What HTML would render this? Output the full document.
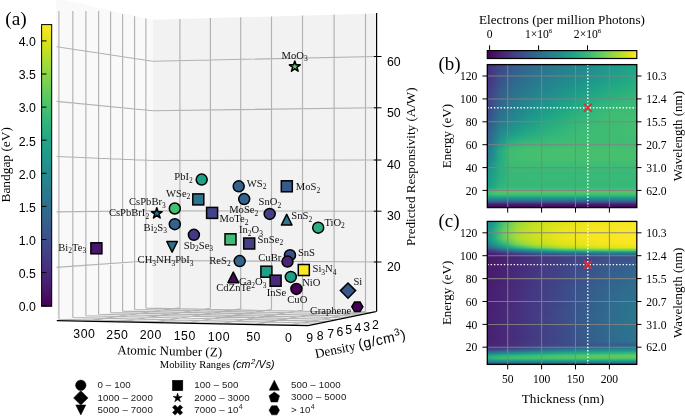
<!DOCTYPE html>
<html><head><meta charset="utf-8"><style>
html,body{margin:0;padding:0;background:#fff;}
body{width:685px;height:417px;overflow:hidden;}
svg{display:block;}
</style></head><body>
<svg style="will-change:transform" width="685" height="417" viewBox="0 0 685 417">
<defs><linearGradient id="vv" x1="0" y1="1" x2="0" y2="0"><stop offset="0.0000" stop-color="#440154"/><stop offset="0.0625" stop-color="#48186a"/><stop offset="0.1250" stop-color="#472d7b"/><stop offset="0.1875" stop-color="#424086"/><stop offset="0.2500" stop-color="#3b528b"/><stop offset="0.3125" stop-color="#33638d"/><stop offset="0.3750" stop-color="#2c728e"/><stop offset="0.4375" stop-color="#26828e"/><stop offset="0.5000" stop-color="#21918c"/><stop offset="0.5625" stop-color="#1fa088"/><stop offset="0.6250" stop-color="#28ae80"/><stop offset="0.6875" stop-color="#3fbc73"/><stop offset="0.7500" stop-color="#5ec962"/><stop offset="0.8125" stop-color="#84d44b"/><stop offset="0.8750" stop-color="#addc30"/><stop offset="0.9375" stop-color="#d8e219"/><stop offset="1.0000" stop-color="#fde725"/></linearGradient><linearGradient id="b0"><stop offset="0.000" stop-color="#472c7a"/><stop offset="0.015" stop-color="#472f7d"/><stop offset="0.030" stop-color="#463480"/><stop offset="0.050" stop-color="#443b84"/><stop offset="0.080" stop-color="#414487"/><stop offset="0.110" stop-color="#3e4c8a"/><stop offset="0.150" stop-color="#39558c"/><stop offset="0.200" stop-color="#365d8d"/><stop offset="0.250" stop-color="#32658e"/><stop offset="0.320" stop-color="#2f6c8e"/><stop offset="0.400" stop-color="#2c738e"/><stop offset="0.500" stop-color="#297b8e"/><stop offset="0.600" stop-color="#26828e"/><stop offset="0.700" stop-color="#228c8d"/><stop offset="0.800" stop-color="#1f958b"/><stop offset="0.900" stop-color="#1e9d89"/><stop offset="1.000" stop-color="#20a486"/></linearGradient><linearGradient id="b1"><stop offset="0.000" stop-color="#472d7b"/><stop offset="0.015" stop-color="#46327e"/><stop offset="0.030" stop-color="#453781"/><stop offset="0.050" stop-color="#433d84"/><stop offset="0.080" stop-color="#3f4788"/><stop offset="0.110" stop-color="#3d4e8a"/><stop offset="0.150" stop-color="#38588c"/><stop offset="0.200" stop-color="#34608d"/><stop offset="0.250" stop-color="#31678e"/><stop offset="0.320" stop-color="#2e6e8e"/><stop offset="0.400" stop-color="#2a768e"/><stop offset="0.500" stop-color="#277e8e"/><stop offset="0.600" stop-color="#25858e"/><stop offset="0.700" stop-color="#218f8d"/><stop offset="0.800" stop-color="#1f988b"/><stop offset="0.900" stop-color="#1f9f88"/><stop offset="1.000" stop-color="#21a585"/></linearGradient><linearGradient id="b2"><stop offset="0.000" stop-color="#472e7c"/><stop offset="0.015" stop-color="#46337f"/><stop offset="0.030" stop-color="#453882"/><stop offset="0.050" stop-color="#423f85"/><stop offset="0.080" stop-color="#3e4989"/><stop offset="0.110" stop-color="#3c508b"/><stop offset="0.150" stop-color="#375a8c"/><stop offset="0.200" stop-color="#33628d"/><stop offset="0.250" stop-color="#306a8e"/><stop offset="0.320" stop-color="#2d718e"/><stop offset="0.400" stop-color="#2a788e"/><stop offset="0.500" stop-color="#27808e"/><stop offset="0.600" stop-color="#24878e"/><stop offset="0.700" stop-color="#21918c"/><stop offset="0.800" stop-color="#1f9a8a"/><stop offset="0.900" stop-color="#1fa188"/><stop offset="1.000" stop-color="#22a785"/></linearGradient><linearGradient id="b3"><stop offset="0.000" stop-color="#46307e"/><stop offset="0.015" stop-color="#463480"/><stop offset="0.030" stop-color="#443983"/><stop offset="0.050" stop-color="#424186"/><stop offset="0.080" stop-color="#3e4c8a"/><stop offset="0.110" stop-color="#3a538b"/><stop offset="0.150" stop-color="#365c8d"/><stop offset="0.200" stop-color="#32648e"/><stop offset="0.250" stop-color="#2f6c8e"/><stop offset="0.320" stop-color="#2c728e"/><stop offset="0.400" stop-color="#297a8e"/><stop offset="0.500" stop-color="#26828e"/><stop offset="0.600" stop-color="#238a8d"/><stop offset="0.700" stop-color="#20938c"/><stop offset="0.800" stop-color="#1e9c89"/><stop offset="0.900" stop-color="#1fa287"/><stop offset="1.000" stop-color="#23a983"/></linearGradient><linearGradient id="b4"><stop offset="0.000" stop-color="#46327e"/><stop offset="0.015" stop-color="#453781"/><stop offset="0.030" stop-color="#443b84"/><stop offset="0.050" stop-color="#414287"/><stop offset="0.080" stop-color="#3d4e8a"/><stop offset="0.110" stop-color="#39558c"/><stop offset="0.150" stop-color="#355f8d"/><stop offset="0.200" stop-color="#31668e"/><stop offset="0.250" stop-color="#2e6e8e"/><stop offset="0.320" stop-color="#2b748e"/><stop offset="0.400" stop-color="#287c8e"/><stop offset="0.500" stop-color="#25848e"/><stop offset="0.600" stop-color="#228d8d"/><stop offset="0.700" stop-color="#1f958b"/><stop offset="0.800" stop-color="#1f9e89"/><stop offset="0.900" stop-color="#20a486"/><stop offset="1.000" stop-color="#25ab82"/></linearGradient><linearGradient id="b5"><stop offset="0.000" stop-color="#46337f"/><stop offset="0.015" stop-color="#453882"/><stop offset="0.030" stop-color="#433d84"/><stop offset="0.050" stop-color="#404588"/><stop offset="0.080" stop-color="#3b518b"/><stop offset="0.110" stop-color="#38588c"/><stop offset="0.150" stop-color="#34618d"/><stop offset="0.200" stop-color="#30698e"/><stop offset="0.250" stop-color="#2d708e"/><stop offset="0.320" stop-color="#2a768e"/><stop offset="0.400" stop-color="#277f8e"/><stop offset="0.500" stop-color="#24878e"/><stop offset="0.600" stop-color="#218f8d"/><stop offset="0.700" stop-color="#1f978b"/><stop offset="0.800" stop-color="#1fa088"/><stop offset="0.900" stop-color="#21a685"/><stop offset="1.000" stop-color="#25ac82"/></linearGradient><linearGradient id="b6"><stop offset="0.000" stop-color="#463480"/><stop offset="0.015" stop-color="#443983"/><stop offset="0.030" stop-color="#433e85"/><stop offset="0.050" stop-color="#3f4788"/><stop offset="0.080" stop-color="#3b528b"/><stop offset="0.110" stop-color="#375a8c"/><stop offset="0.150" stop-color="#33638d"/><stop offset="0.200" stop-color="#2f6b8e"/><stop offset="0.250" stop-color="#2c718e"/><stop offset="0.320" stop-color="#29798e"/><stop offset="0.400" stop-color="#26818e"/><stop offset="0.500" stop-color="#23898e"/><stop offset="0.600" stop-color="#20928c"/><stop offset="0.700" stop-color="#1f9a8a"/><stop offset="0.800" stop-color="#1fa287"/><stop offset="0.900" stop-color="#22a884"/><stop offset="1.000" stop-color="#27ad81"/></linearGradient><linearGradient id="b7"><stop offset="0.000" stop-color="#453581"/><stop offset="0.015" stop-color="#443a83"/><stop offset="0.030" stop-color="#424086"/><stop offset="0.050" stop-color="#3f4889"/><stop offset="0.080" stop-color="#3a548c"/><stop offset="0.110" stop-color="#365c8d"/><stop offset="0.150" stop-color="#32658e"/><stop offset="0.200" stop-color="#2f6c8e"/><stop offset="0.250" stop-color="#2c738e"/><stop offset="0.320" stop-color="#297b8e"/><stop offset="0.400" stop-color="#26828e"/><stop offset="0.500" stop-color="#228b8d"/><stop offset="0.600" stop-color="#20938c"/><stop offset="0.700" stop-color="#1e9c89"/><stop offset="0.800" stop-color="#20a486"/><stop offset="0.900" stop-color="#24aa83"/><stop offset="1.000" stop-color="#29af7f"/></linearGradient><linearGradient id="b8"><stop offset="0.000" stop-color="#453781"/><stop offset="0.015" stop-color="#443b84"/><stop offset="0.030" stop-color="#424186"/><stop offset="0.050" stop-color="#3e4989"/><stop offset="0.080" stop-color="#39558c"/><stop offset="0.110" stop-color="#365d8d"/><stop offset="0.150" stop-color="#31678e"/><stop offset="0.200" stop-color="#2e6e8e"/><stop offset="0.250" stop-color="#2b758e"/><stop offset="0.320" stop-color="#287c8e"/><stop offset="0.400" stop-color="#25848e"/><stop offset="0.500" stop-color="#228d8d"/><stop offset="0.600" stop-color="#1f968b"/><stop offset="0.700" stop-color="#1f9e89"/><stop offset="0.800" stop-color="#21a685"/><stop offset="0.900" stop-color="#25ac82"/><stop offset="1.000" stop-color="#2ab07f"/></linearGradient><linearGradient id="b9"><stop offset="0.000" stop-color="#453882"/><stop offset="0.015" stop-color="#433e85"/><stop offset="0.030" stop-color="#414287"/><stop offset="0.050" stop-color="#3e4c8a"/><stop offset="0.080" stop-color="#38588c"/><stop offset="0.110" stop-color="#355f8d"/><stop offset="0.150" stop-color="#31688e"/><stop offset="0.200" stop-color="#2d708e"/><stop offset="0.250" stop-color="#2a778e"/><stop offset="0.320" stop-color="#277e8e"/><stop offset="0.400" stop-color="#24868e"/><stop offset="0.500" stop-color="#21908d"/><stop offset="0.600" stop-color="#1f988b"/><stop offset="0.700" stop-color="#1fa188"/><stop offset="0.800" stop-color="#22a884"/><stop offset="0.900" stop-color="#26ad81"/><stop offset="1.000" stop-color="#2db27d"/></linearGradient><linearGradient id="b10"><stop offset="0.000" stop-color="#443983"/><stop offset="0.015" stop-color="#423f85"/><stop offset="0.030" stop-color="#414487"/><stop offset="0.050" stop-color="#3d4d8a"/><stop offset="0.080" stop-color="#38598c"/><stop offset="0.110" stop-color="#34618d"/><stop offset="0.150" stop-color="#306a8e"/><stop offset="0.200" stop-color="#2c718e"/><stop offset="0.250" stop-color="#2a788e"/><stop offset="0.320" stop-color="#27808e"/><stop offset="0.400" stop-color="#23888e"/><stop offset="0.500" stop-color="#20928c"/><stop offset="0.600" stop-color="#1e9b8a"/><stop offset="0.700" stop-color="#1fa287"/><stop offset="0.800" stop-color="#24aa83"/><stop offset="0.900" stop-color="#28ae80"/><stop offset="1.000" stop-color="#2eb37c"/></linearGradient><linearGradient id="b11"><stop offset="0.000" stop-color="#443a83"/><stop offset="0.015" stop-color="#424086"/><stop offset="0.030" stop-color="#404588"/><stop offset="0.050" stop-color="#3d4e8a"/><stop offset="0.080" stop-color="#375b8d"/><stop offset="0.110" stop-color="#33628d"/><stop offset="0.150" stop-color="#2f6c8e"/><stop offset="0.200" stop-color="#2c738e"/><stop offset="0.250" stop-color="#297a8e"/><stop offset="0.320" stop-color="#26828e"/><stop offset="0.400" stop-color="#238a8d"/><stop offset="0.500" stop-color="#20938c"/><stop offset="0.600" stop-color="#1e9d89"/><stop offset="0.700" stop-color="#20a486"/><stop offset="0.800" stop-color="#25ac82"/><stop offset="0.900" stop-color="#2ab07f"/><stop offset="1.000" stop-color="#31b57b"/></linearGradient><linearGradient id="b12"><stop offset="0.000" stop-color="#443b84"/><stop offset="0.015" stop-color="#424186"/><stop offset="0.030" stop-color="#3f4788"/><stop offset="0.050" stop-color="#3c508b"/><stop offset="0.080" stop-color="#365d8d"/><stop offset="0.110" stop-color="#32648e"/><stop offset="0.150" stop-color="#2e6e8e"/><stop offset="0.200" stop-color="#2b758e"/><stop offset="0.250" stop-color="#287d8e"/><stop offset="0.320" stop-color="#25848e"/><stop offset="0.400" stop-color="#228d8d"/><stop offset="0.500" stop-color="#1f968b"/><stop offset="0.600" stop-color="#1fa088"/><stop offset="0.700" stop-color="#22a785"/><stop offset="0.800" stop-color="#28ae80"/><stop offset="0.900" stop-color="#2db27d"/><stop offset="1.000" stop-color="#32b67a"/></linearGradient><linearGradient id="b13"><stop offset="0.000" stop-color="#433d84"/><stop offset="0.015" stop-color="#414287"/><stop offset="0.030" stop-color="#3f4889"/><stop offset="0.050" stop-color="#3b518b"/><stop offset="0.080" stop-color="#355f8d"/><stop offset="0.110" stop-color="#31668e"/><stop offset="0.150" stop-color="#2d708e"/><stop offset="0.200" stop-color="#2a778e"/><stop offset="0.250" stop-color="#277f8e"/><stop offset="0.320" stop-color="#24868e"/><stop offset="0.400" stop-color="#21908d"/><stop offset="0.500" stop-color="#1f998a"/><stop offset="0.600" stop-color="#1fa287"/><stop offset="0.700" stop-color="#24aa83"/><stop offset="0.800" stop-color="#2ab07f"/><stop offset="0.900" stop-color="#2fb47c"/><stop offset="1.000" stop-color="#35b779"/></linearGradient><linearGradient id="b14"><stop offset="0.000" stop-color="#433e85"/><stop offset="0.015" stop-color="#414487"/><stop offset="0.030" stop-color="#3e4a89"/><stop offset="0.050" stop-color="#3a538b"/><stop offset="0.080" stop-color="#34608d"/><stop offset="0.110" stop-color="#31688e"/><stop offset="0.150" stop-color="#2c718e"/><stop offset="0.200" stop-color="#29798e"/><stop offset="0.250" stop-color="#26818e"/><stop offset="0.320" stop-color="#23888e"/><stop offset="0.400" stop-color="#20928c"/><stop offset="0.500" stop-color="#1e9b8a"/><stop offset="0.600" stop-color="#20a486"/><stop offset="0.700" stop-color="#25ac82"/><stop offset="0.800" stop-color="#2db27d"/><stop offset="0.900" stop-color="#32b67a"/><stop offset="1.000" stop-color="#38b977"/></linearGradient><linearGradient id="b15"><stop offset="0.000" stop-color="#423f85"/><stop offset="0.015" stop-color="#404688"/><stop offset="0.030" stop-color="#3e4c8a"/><stop offset="0.050" stop-color="#3a548c"/><stop offset="0.080" stop-color="#33628d"/><stop offset="0.110" stop-color="#306a8e"/><stop offset="0.150" stop-color="#2c738e"/><stop offset="0.200" stop-color="#297b8e"/><stop offset="0.250" stop-color="#26828e"/><stop offset="0.320" stop-color="#238a8d"/><stop offset="0.400" stop-color="#20938c"/><stop offset="0.500" stop-color="#1e9d89"/><stop offset="0.600" stop-color="#21a685"/><stop offset="0.700" stop-color="#26ad81"/><stop offset="0.800" stop-color="#2fb47c"/><stop offset="0.900" stop-color="#34b679"/><stop offset="1.000" stop-color="#38b977"/></linearGradient><linearGradient id="b16"><stop offset="0.000" stop-color="#424186"/><stop offset="0.015" stop-color="#3f4788"/><stop offset="0.030" stop-color="#3d4e8a"/><stop offset="0.050" stop-color="#38588c"/><stop offset="0.080" stop-color="#32648e"/><stop offset="0.110" stop-color="#2f6c8e"/><stop offset="0.150" stop-color="#2b758e"/><stop offset="0.200" stop-color="#287d8e"/><stop offset="0.250" stop-color="#25848e"/><stop offset="0.320" stop-color="#228d8d"/><stop offset="0.400" stop-color="#1f968b"/><stop offset="0.500" stop-color="#1fa088"/><stop offset="0.600" stop-color="#23a983"/><stop offset="0.700" stop-color="#29af7f"/><stop offset="0.800" stop-color="#32b67a"/><stop offset="0.900" stop-color="#37b878"/><stop offset="1.000" stop-color="#3bbb75"/></linearGradient><linearGradient id="b17"><stop offset="0.000" stop-color="#414287"/><stop offset="0.015" stop-color="#3e4989"/><stop offset="0.030" stop-color="#3c508b"/><stop offset="0.050" stop-color="#375a8c"/><stop offset="0.080" stop-color="#31678e"/><stop offset="0.110" stop-color="#2e6e8e"/><stop offset="0.150" stop-color="#2a778e"/><stop offset="0.200" stop-color="#27808e"/><stop offset="0.250" stop-color="#24878e"/><stop offset="0.320" stop-color="#21908d"/><stop offset="0.400" stop-color="#1f998a"/><stop offset="0.500" stop-color="#1fa287"/><stop offset="0.600" stop-color="#25ab82"/><stop offset="0.700" stop-color="#2cb17e"/><stop offset="0.800" stop-color="#34b679"/><stop offset="0.900" stop-color="#38b977"/><stop offset="1.000" stop-color="#3dbc74"/></linearGradient><linearGradient id="b18"><stop offset="0.000" stop-color="#404588"/><stop offset="0.015" stop-color="#3e4a89"/><stop offset="0.030" stop-color="#3b518b"/><stop offset="0.050" stop-color="#375b8d"/><stop offset="0.080" stop-color="#31688e"/><stop offset="0.110" stop-color="#2d708e"/><stop offset="0.150" stop-color="#29798e"/><stop offset="0.200" stop-color="#26828e"/><stop offset="0.250" stop-color="#23898e"/><stop offset="0.320" stop-color="#20928c"/><stop offset="0.400" stop-color="#1e9c89"/><stop offset="0.500" stop-color="#20a486"/><stop offset="0.600" stop-color="#27ad81"/><stop offset="0.700" stop-color="#2eb37c"/><stop offset="0.800" stop-color="#37b878"/><stop offset="0.900" stop-color="#3aba76"/><stop offset="1.000" stop-color="#3fbc73"/></linearGradient><linearGradient id="b19"><stop offset="0.000" stop-color="#404688"/><stop offset="0.015" stop-color="#3d4d8a"/><stop offset="0.030" stop-color="#3a538b"/><stop offset="0.050" stop-color="#365d8d"/><stop offset="0.080" stop-color="#306a8e"/><stop offset="0.110" stop-color="#2c718e"/><stop offset="0.150" stop-color="#297b8e"/><stop offset="0.200" stop-color="#25838e"/><stop offset="0.250" stop-color="#228b8d"/><stop offset="0.320" stop-color="#20938c"/><stop offset="0.400" stop-color="#1f9e89"/><stop offset="0.500" stop-color="#21a685"/><stop offset="0.600" stop-color="#29af7f"/><stop offset="0.700" stop-color="#2fb47c"/><stop offset="0.800" stop-color="#38b977"/><stop offset="0.900" stop-color="#3bbb75"/><stop offset="1.000" stop-color="#3fbc73"/></linearGradient><linearGradient id="b20"><stop offset="0.000" stop-color="#3f4788"/><stop offset="0.015" stop-color="#3d4e8a"/><stop offset="0.030" stop-color="#3a548c"/><stop offset="0.050" stop-color="#355e8d"/><stop offset="0.080" stop-color="#2f6c8e"/><stop offset="0.110" stop-color="#2c738e"/><stop offset="0.150" stop-color="#287d8e"/><stop offset="0.200" stop-color="#25858e"/><stop offset="0.250" stop-color="#228d8d"/><stop offset="0.320" stop-color="#1f968b"/><stop offset="0.400" stop-color="#1fa088"/><stop offset="0.500" stop-color="#22a884"/><stop offset="0.600" stop-color="#2cb17e"/><stop offset="0.700" stop-color="#32b67a"/><stop offset="0.800" stop-color="#3bbb75"/><stop offset="0.900" stop-color="#3fbc73"/><stop offset="1.000" stop-color="#40bd72"/></linearGradient><linearGradient id="b21"><stop offset="0.000" stop-color="#3f4889"/><stop offset="0.015" stop-color="#3c4f8a"/><stop offset="0.030" stop-color="#39568c"/><stop offset="0.050" stop-color="#34608d"/><stop offset="0.080" stop-color="#2e6e8e"/><stop offset="0.110" stop-color="#2b748e"/><stop offset="0.150" stop-color="#277f8e"/><stop offset="0.200" stop-color="#24868e"/><stop offset="0.250" stop-color="#218f8d"/><stop offset="0.320" stop-color="#1f988b"/><stop offset="0.400" stop-color="#1fa287"/><stop offset="0.500" stop-color="#25ab82"/><stop offset="0.600" stop-color="#2eb37c"/><stop offset="0.700" stop-color="#35b779"/><stop offset="0.800" stop-color="#3dbc74"/><stop offset="0.900" stop-color="#40bd72"/><stop offset="1.000" stop-color="#42be71"/></linearGradient><linearGradient id="b22"><stop offset="0.000" stop-color="#3e4a89"/><stop offset="0.015" stop-color="#3b518b"/><stop offset="0.030" stop-color="#38598c"/><stop offset="0.050" stop-color="#33628d"/><stop offset="0.080" stop-color="#2d708e"/><stop offset="0.110" stop-color="#2a778e"/><stop offset="0.150" stop-color="#26818e"/><stop offset="0.200" stop-color="#23898e"/><stop offset="0.250" stop-color="#20928c"/><stop offset="0.320" stop-color="#1f9a8a"/><stop offset="0.400" stop-color="#20a486"/><stop offset="0.500" stop-color="#26ad81"/><stop offset="0.600" stop-color="#2fb47c"/><stop offset="0.700" stop-color="#37b878"/><stop offset="0.800" stop-color="#3fbc73"/><stop offset="0.900" stop-color="#40bd72"/><stop offset="1.000" stop-color="#44bf70"/></linearGradient><linearGradient id="b23"><stop offset="0.000" stop-color="#3d4d8a"/><stop offset="0.015" stop-color="#3a538b"/><stop offset="0.030" stop-color="#375b8d"/><stop offset="0.050" stop-color="#32648e"/><stop offset="0.080" stop-color="#2c728e"/><stop offset="0.110" stop-color="#297a8e"/><stop offset="0.150" stop-color="#25838e"/><stop offset="0.200" stop-color="#228c8d"/><stop offset="0.250" stop-color="#1f948c"/><stop offset="0.320" stop-color="#1e9d89"/><stop offset="0.400" stop-color="#21a685"/><stop offset="0.500" stop-color="#27ad81"/><stop offset="0.600" stop-color="#31b57b"/><stop offset="0.700" stop-color="#38b977"/><stop offset="0.800" stop-color="#3fbc73"/><stop offset="0.900" stop-color="#40bd72"/><stop offset="1.000" stop-color="#44bf70"/></linearGradient><linearGradient id="b24"><stop offset="0.000" stop-color="#3c4f8a"/><stop offset="0.015" stop-color="#39558c"/><stop offset="0.030" stop-color="#365d8d"/><stop offset="0.050" stop-color="#31678e"/><stop offset="0.080" stop-color="#2b748e"/><stop offset="0.110" stop-color="#287c8e"/><stop offset="0.150" stop-color="#24868e"/><stop offset="0.200" stop-color="#218f8d"/><stop offset="0.250" stop-color="#1f968b"/><stop offset="0.320" stop-color="#1f9f88"/><stop offset="0.400" stop-color="#22a884"/><stop offset="0.500" stop-color="#29af7f"/><stop offset="0.600" stop-color="#32b67a"/><stop offset="0.700" stop-color="#38b977"/><stop offset="0.800" stop-color="#3fbc73"/><stop offset="0.900" stop-color="#40bd72"/><stop offset="1.000" stop-color="#44bf70"/></linearGradient><linearGradient id="b25"><stop offset="0.000" stop-color="#3b518b"/><stop offset="0.015" stop-color="#38588c"/><stop offset="0.030" stop-color="#355f8d"/><stop offset="0.050" stop-color="#30698e"/><stop offset="0.080" stop-color="#2a778e"/><stop offset="0.110" stop-color="#277f8e"/><stop offset="0.150" stop-color="#23898e"/><stop offset="0.200" stop-color="#20928c"/><stop offset="0.250" stop-color="#1f998a"/><stop offset="0.320" stop-color="#1fa188"/><stop offset="0.400" stop-color="#24aa83"/><stop offset="0.500" stop-color="#2ab07f"/><stop offset="0.600" stop-color="#34b679"/><stop offset="0.700" stop-color="#3aba76"/><stop offset="0.800" stop-color="#3fbc73"/><stop offset="0.900" stop-color="#40bd72"/><stop offset="1.000" stop-color="#44bf70"/></linearGradient><linearGradient id="b26"><stop offset="0.000" stop-color="#3a538b"/><stop offset="0.015" stop-color="#375a8c"/><stop offset="0.030" stop-color="#34618d"/><stop offset="0.050" stop-color="#2f6b8e"/><stop offset="0.080" stop-color="#297a8e"/><stop offset="0.110" stop-color="#26828e"/><stop offset="0.150" stop-color="#228c8d"/><stop offset="0.200" stop-color="#1f948c"/><stop offset="0.250" stop-color="#1e9c89"/><stop offset="0.320" stop-color="#20a386"/><stop offset="0.400" stop-color="#25ac82"/><stop offset="0.500" stop-color="#2db27d"/><stop offset="0.600" stop-color="#37b878"/><stop offset="0.700" stop-color="#3aba76"/><stop offset="0.800" stop-color="#3fbc73"/><stop offset="0.900" stop-color="#40bd72"/><stop offset="1.000" stop-color="#44bf70"/></linearGradient><linearGradient id="b27"><stop offset="0.000" stop-color="#39558c"/><stop offset="0.015" stop-color="#365c8d"/><stop offset="0.030" stop-color="#33638d"/><stop offset="0.050" stop-color="#2e6e8e"/><stop offset="0.080" stop-color="#287d8e"/><stop offset="0.110" stop-color="#25848e"/><stop offset="0.150" stop-color="#218f8d"/><stop offset="0.200" stop-color="#1f978b"/><stop offset="0.250" stop-color="#1f9f88"/><stop offset="0.320" stop-color="#21a585"/><stop offset="0.400" stop-color="#27ad81"/><stop offset="0.500" stop-color="#2eb37c"/><stop offset="0.600" stop-color="#38b977"/><stop offset="0.700" stop-color="#3bbb75"/><stop offset="0.800" stop-color="#3fbc73"/><stop offset="0.900" stop-color="#40bd72"/><stop offset="1.000" stop-color="#44bf70"/></linearGradient><linearGradient id="b28"><stop offset="0.000" stop-color="#38588c"/><stop offset="0.015" stop-color="#355f8d"/><stop offset="0.030" stop-color="#32658e"/><stop offset="0.050" stop-color="#2d708e"/><stop offset="0.080" stop-color="#277f8e"/><stop offset="0.110" stop-color="#24878e"/><stop offset="0.150" stop-color="#20928c"/><stop offset="0.200" stop-color="#1f998a"/><stop offset="0.250" stop-color="#1fa188"/><stop offset="0.320" stop-color="#22a884"/><stop offset="0.400" stop-color="#29af7f"/><stop offset="0.500" stop-color="#31b57b"/><stop offset="0.600" stop-color="#3aba76"/><stop offset="0.700" stop-color="#3bbb75"/><stop offset="0.800" stop-color="#3fbc73"/><stop offset="0.900" stop-color="#40bd72"/><stop offset="1.000" stop-color="#44bf70"/></linearGradient><linearGradient id="b29"><stop offset="0.000" stop-color="#375a8c"/><stop offset="0.015" stop-color="#34618d"/><stop offset="0.030" stop-color="#31678e"/><stop offset="0.050" stop-color="#2c718e"/><stop offset="0.080" stop-color="#26828e"/><stop offset="0.110" stop-color="#238a8d"/><stop offset="0.150" stop-color="#1f958b"/><stop offset="0.200" stop-color="#1e9c89"/><stop offset="0.250" stop-color="#20a386"/><stop offset="0.320" stop-color="#24aa83"/><stop offset="0.400" stop-color="#2cb17e"/><stop offset="0.500" stop-color="#32b67a"/><stop offset="0.600" stop-color="#3bbb75"/><stop offset="0.700" stop-color="#3dbc74"/><stop offset="0.800" stop-color="#3fbc73"/><stop offset="0.900" stop-color="#40bd72"/><stop offset="1.000" stop-color="#44bf70"/></linearGradient><linearGradient id="b30"><stop offset="0.000" stop-color="#365c8d"/><stop offset="0.015" stop-color="#33628d"/><stop offset="0.030" stop-color="#30698e"/><stop offset="0.050" stop-color="#2c738e"/><stop offset="0.080" stop-color="#25848e"/><stop offset="0.110" stop-color="#228d8d"/><stop offset="0.150" stop-color="#1f988b"/><stop offset="0.200" stop-color="#1fa088"/><stop offset="0.250" stop-color="#21a685"/><stop offset="0.320" stop-color="#25ac82"/><stop offset="0.400" stop-color="#2eb37c"/><stop offset="0.500" stop-color="#34b679"/><stop offset="0.600" stop-color="#3bbb75"/><stop offset="0.700" stop-color="#3dbc74"/><stop offset="0.800" stop-color="#3fbc73"/><stop offset="0.900" stop-color="#40bd72"/><stop offset="1.000" stop-color="#42be71"/></linearGradient><linearGradient id="b31"><stop offset="0.000" stop-color="#355e8d"/><stop offset="0.015" stop-color="#32648e"/><stop offset="0.030" stop-color="#306a8e"/><stop offset="0.050" stop-color="#2b758e"/><stop offset="0.080" stop-color="#24878e"/><stop offset="0.110" stop-color="#21908d"/><stop offset="0.150" stop-color="#1e9c89"/><stop offset="0.200" stop-color="#1fa287"/><stop offset="0.250" stop-color="#23a983"/><stop offset="0.320" stop-color="#28ae80"/><stop offset="0.400" stop-color="#2fb47c"/><stop offset="0.500" stop-color="#35b779"/><stop offset="0.600" stop-color="#3bbb75"/><stop offset="0.700" stop-color="#3dbc74"/><stop offset="0.800" stop-color="#3fbc73"/><stop offset="0.900" stop-color="#40bd72"/><stop offset="1.000" stop-color="#42be71"/></linearGradient><linearGradient id="b32"><stop offset="0.000" stop-color="#355f8d"/><stop offset="0.015" stop-color="#31668e"/><stop offset="0.030" stop-color="#2f6c8e"/><stop offset="0.050" stop-color="#2a788e"/><stop offset="0.080" stop-color="#23898e"/><stop offset="0.110" stop-color="#20928c"/><stop offset="0.150" stop-color="#1fa088"/><stop offset="0.200" stop-color="#21a585"/><stop offset="0.250" stop-color="#25ac82"/><stop offset="0.320" stop-color="#2ab07f"/><stop offset="0.400" stop-color="#31b57b"/><stop offset="0.500" stop-color="#37b878"/><stop offset="0.600" stop-color="#3dbc74"/><stop offset="0.700" stop-color="#3dbc74"/><stop offset="0.800" stop-color="#3fbc73"/><stop offset="0.900" stop-color="#40bd72"/><stop offset="1.000" stop-color="#42be71"/></linearGradient><linearGradient id="b33"><stop offset="0.000" stop-color="#34608d"/><stop offset="0.015" stop-color="#31678e"/><stop offset="0.030" stop-color="#2e6d8e"/><stop offset="0.050" stop-color="#29798e"/><stop offset="0.080" stop-color="#228b8d"/><stop offset="0.110" stop-color="#1f948c"/><stop offset="0.150" stop-color="#1fa187"/><stop offset="0.200" stop-color="#22a884"/><stop offset="0.250" stop-color="#27ad81"/><stop offset="0.320" stop-color="#2cb17e"/><stop offset="0.400" stop-color="#32b67a"/><stop offset="0.500" stop-color="#38b977"/><stop offset="0.600" stop-color="#3dbc74"/><stop offset="0.700" stop-color="#3dbc74"/><stop offset="0.800" stop-color="#3fbc73"/><stop offset="0.900" stop-color="#40bd72"/><stop offset="1.000" stop-color="#40bd72"/></linearGradient><linearGradient id="b34"><stop offset="0.000" stop-color="#33628d"/><stop offset="0.015" stop-color="#31688e"/><stop offset="0.030" stop-color="#2e6f8e"/><stop offset="0.050" stop-color="#297b8e"/><stop offset="0.080" stop-color="#218e8d"/><stop offset="0.110" stop-color="#1f988b"/><stop offset="0.150" stop-color="#21a585"/><stop offset="0.200" stop-color="#25ab82"/><stop offset="0.250" stop-color="#2ab07f"/><stop offset="0.320" stop-color="#2fb47c"/><stop offset="0.400" stop-color="#35b779"/><stop offset="0.500" stop-color="#38b977"/><stop offset="0.600" stop-color="#3dbc74"/><stop offset="0.700" stop-color="#3fbc73"/><stop offset="0.800" stop-color="#3fbc73"/><stop offset="0.900" stop-color="#40bd72"/><stop offset="1.000" stop-color="#40bd72"/></linearGradient><linearGradient id="b35"><stop offset="0.000" stop-color="#32648e"/><stop offset="0.015" stop-color="#306a8e"/><stop offset="0.030" stop-color="#2d718e"/><stop offset="0.050" stop-color="#287d8e"/><stop offset="0.080" stop-color="#21908d"/><stop offset="0.110" stop-color="#1e9b8a"/><stop offset="0.150" stop-color="#23a983"/><stop offset="0.200" stop-color="#27ad81"/><stop offset="0.250" stop-color="#2eb37c"/><stop offset="0.320" stop-color="#32b67a"/><stop offset="0.400" stop-color="#37b878"/><stop offset="0.500" stop-color="#3aba76"/><stop offset="0.600" stop-color="#3dbc74"/><stop offset="0.700" stop-color="#3fbc73"/><stop offset="0.800" stop-color="#3fbc73"/><stop offset="0.900" stop-color="#3fbc73"/><stop offset="1.000" stop-color="#40bd72"/></linearGradient><linearGradient id="b36"><stop offset="0.000" stop-color="#32658e"/><stop offset="0.015" stop-color="#2f6b8e"/><stop offset="0.030" stop-color="#2c718e"/><stop offset="0.050" stop-color="#277e8e"/><stop offset="0.080" stop-color="#20928c"/><stop offset="0.110" stop-color="#1e9d89"/><stop offset="0.150" stop-color="#25ab82"/><stop offset="0.200" stop-color="#2ab07f"/><stop offset="0.250" stop-color="#31b57b"/><stop offset="0.320" stop-color="#34b679"/><stop offset="0.400" stop-color="#38b977"/><stop offset="0.500" stop-color="#3bbb75"/><stop offset="0.600" stop-color="#3fbc73"/><stop offset="0.700" stop-color="#3fbc73"/><stop offset="0.800" stop-color="#3fbc73"/><stop offset="0.900" stop-color="#3fbc73"/><stop offset="1.000" stop-color="#40bd72"/></linearGradient><linearGradient id="b37"><stop offset="0.000" stop-color="#31668e"/><stop offset="0.015" stop-color="#2f6c8e"/><stop offset="0.030" stop-color="#2c728e"/><stop offset="0.050" stop-color="#27808e"/><stop offset="0.080" stop-color="#20938c"/><stop offset="0.110" stop-color="#1f9f88"/><stop offset="0.150" stop-color="#27ad81"/><stop offset="0.200" stop-color="#2db27d"/><stop offset="0.250" stop-color="#34b679"/><stop offset="0.320" stop-color="#37b878"/><stop offset="0.400" stop-color="#3aba76"/><stop offset="0.500" stop-color="#3bbb75"/><stop offset="0.600" stop-color="#3fbc73"/><stop offset="0.700" stop-color="#3fbc73"/><stop offset="0.800" stop-color="#3fbc73"/><stop offset="0.900" stop-color="#3fbc73"/><stop offset="1.000" stop-color="#3fbc73"/></linearGradient><linearGradient id="b38"><stop offset="0.000" stop-color="#31678e"/><stop offset="0.015" stop-color="#2e6e8e"/><stop offset="0.030" stop-color="#2c738e"/><stop offset="0.050" stop-color="#26818e"/><stop offset="0.080" stop-color="#1f958b"/><stop offset="0.110" stop-color="#1fa188"/><stop offset="0.150" stop-color="#29af7f"/><stop offset="0.200" stop-color="#2fb47c"/><stop offset="0.250" stop-color="#37b878"/><stop offset="0.320" stop-color="#38b977"/><stop offset="0.400" stop-color="#3bbb75"/><stop offset="0.500" stop-color="#3dbc74"/><stop offset="0.600" stop-color="#3fbc73"/><stop offset="0.700" stop-color="#3fbc73"/><stop offset="0.800" stop-color="#3fbc73"/><stop offset="0.900" stop-color="#3fbc73"/><stop offset="1.000" stop-color="#3fbc73"/></linearGradient><linearGradient id="b39"><stop offset="0.000" stop-color="#30698e"/><stop offset="0.015" stop-color="#2d708e"/><stop offset="0.030" stop-color="#2b758e"/><stop offset="0.050" stop-color="#25838e"/><stop offset="0.080" stop-color="#1f978b"/><stop offset="0.110" stop-color="#1fa287"/><stop offset="0.150" stop-color="#2cb17e"/><stop offset="0.200" stop-color="#31b57b"/><stop offset="0.250" stop-color="#38b977"/><stop offset="0.320" stop-color="#3aba76"/><stop offset="0.400" stop-color="#3bbb75"/><stop offset="0.500" stop-color="#3fbc73"/><stop offset="0.600" stop-color="#40bd72"/><stop offset="0.700" stop-color="#40bd72"/><stop offset="0.800" stop-color="#40bd72"/><stop offset="0.900" stop-color="#40bd72"/><stop offset="1.000" stop-color="#40bd72"/></linearGradient><linearGradient id="b40"><stop offset="0.000" stop-color="#306a8e"/><stop offset="0.015" stop-color="#2d718e"/><stop offset="0.030" stop-color="#2a778e"/><stop offset="0.050" stop-color="#25858e"/><stop offset="0.080" stop-color="#1f9a8a"/><stop offset="0.110" stop-color="#21a585"/><stop offset="0.150" stop-color="#2eb37c"/><stop offset="0.200" stop-color="#34b679"/><stop offset="0.250" stop-color="#3aba76"/><stop offset="0.320" stop-color="#3bbb75"/><stop offset="0.400" stop-color="#3dbc74"/><stop offset="0.500" stop-color="#3fbc73"/><stop offset="0.600" stop-color="#40bd72"/><stop offset="0.700" stop-color="#40bd72"/><stop offset="0.800" stop-color="#40bd72"/><stop offset="0.900" stop-color="#40bd72"/><stop offset="1.000" stop-color="#40bd72"/></linearGradient><linearGradient id="b41"><stop offset="0.000" stop-color="#2f6c8e"/><stop offset="0.015" stop-color="#2c728e"/><stop offset="0.030" stop-color="#297a8e"/><stop offset="0.050" stop-color="#24878e"/><stop offset="0.080" stop-color="#1e9d89"/><stop offset="0.110" stop-color="#22a785"/><stop offset="0.150" stop-color="#31b57b"/><stop offset="0.200" stop-color="#35b779"/><stop offset="0.250" stop-color="#3bbb75"/><stop offset="0.320" stop-color="#3dbc74"/><stop offset="0.400" stop-color="#3fbc73"/><stop offset="0.500" stop-color="#40bd72"/><stop offset="0.600" stop-color="#42be71"/><stop offset="0.700" stop-color="#42be71"/><stop offset="0.800" stop-color="#42be71"/><stop offset="0.900" stop-color="#42be71"/><stop offset="1.000" stop-color="#42be71"/></linearGradient><linearGradient id="b42"><stop offset="0.000" stop-color="#2e6e8e"/><stop offset="0.015" stop-color="#2b748e"/><stop offset="0.030" stop-color="#287c8e"/><stop offset="0.050" stop-color="#238a8d"/><stop offset="0.080" stop-color="#1f9f88"/><stop offset="0.110" stop-color="#23a983"/><stop offset="0.150" stop-color="#34b679"/><stop offset="0.200" stop-color="#38b977"/><stop offset="0.250" stop-color="#3dbc74"/><stop offset="0.320" stop-color="#3fbc73"/><stop offset="0.400" stop-color="#40bd72"/><stop offset="0.500" stop-color="#40bd72"/><stop offset="0.600" stop-color="#42be71"/><stop offset="0.700" stop-color="#42be71"/><stop offset="0.800" stop-color="#42be71"/><stop offset="0.900" stop-color="#42be71"/><stop offset="1.000" stop-color="#42be71"/></linearGradient><linearGradient id="b43"><stop offset="0.000" stop-color="#2e6f8e"/><stop offset="0.015" stop-color="#2a768e"/><stop offset="0.030" stop-color="#277e8e"/><stop offset="0.050" stop-color="#228c8d"/><stop offset="0.080" stop-color="#1fa187"/><stop offset="0.110" stop-color="#25ab82"/><stop offset="0.150" stop-color="#37b878"/><stop offset="0.200" stop-color="#3aba76"/><stop offset="0.250" stop-color="#3fbc73"/><stop offset="0.320" stop-color="#40bd72"/><stop offset="0.400" stop-color="#42be71"/><stop offset="0.500" stop-color="#42be71"/><stop offset="0.600" stop-color="#44bf70"/><stop offset="0.700" stop-color="#44bf70"/><stop offset="0.800" stop-color="#44bf70"/><stop offset="0.900" stop-color="#44bf70"/><stop offset="1.000" stop-color="#44bf70"/></linearGradient><linearGradient id="b44"><stop offset="0.000" stop-color="#2d718e"/><stop offset="0.015" stop-color="#2a788e"/><stop offset="0.030" stop-color="#27808e"/><stop offset="0.050" stop-color="#218f8d"/><stop offset="0.080" stop-color="#20a386"/><stop offset="0.110" stop-color="#27ad81"/><stop offset="0.150" stop-color="#38b977"/><stop offset="0.200" stop-color="#3dbc74"/><stop offset="0.250" stop-color="#40bd72"/><stop offset="0.320" stop-color="#42be71"/><stop offset="0.400" stop-color="#42be71"/><stop offset="0.500" stop-color="#44bf70"/><stop offset="0.600" stop-color="#44bf70"/><stop offset="0.700" stop-color="#44bf70"/><stop offset="0.800" stop-color="#44bf70"/><stop offset="0.900" stop-color="#44bf70"/><stop offset="1.000" stop-color="#44bf70"/></linearGradient><linearGradient id="b45"><stop offset="0.000" stop-color="#2c718e"/><stop offset="0.015" stop-color="#297a8e"/><stop offset="0.030" stop-color="#26828e"/><stop offset="0.050" stop-color="#21918c"/><stop offset="0.080" stop-color="#21a685"/><stop offset="0.110" stop-color="#29af7f"/><stop offset="0.150" stop-color="#3bbb75"/><stop offset="0.200" stop-color="#3fbc73"/><stop offset="0.250" stop-color="#42be71"/><stop offset="0.320" stop-color="#44bf70"/><stop offset="0.400" stop-color="#44bf70"/><stop offset="0.500" stop-color="#44bf70"/><stop offset="0.600" stop-color="#46c06f"/><stop offset="0.700" stop-color="#46c06f"/><stop offset="0.800" stop-color="#46c06f"/><stop offset="0.900" stop-color="#46c06f"/><stop offset="1.000" stop-color="#46c06f"/></linearGradient><linearGradient id="b46"><stop offset="0.000" stop-color="#2b748e"/><stop offset="0.015" stop-color="#287d8e"/><stop offset="0.030" stop-color="#25858e"/><stop offset="0.050" stop-color="#20938c"/><stop offset="0.080" stop-color="#22a884"/><stop offset="0.110" stop-color="#2cb17e"/><stop offset="0.150" stop-color="#3fbc73"/><stop offset="0.200" stop-color="#40bd72"/><stop offset="0.250" stop-color="#44bf70"/><stop offset="0.320" stop-color="#44bf70"/><stop offset="0.400" stop-color="#46c06f"/><stop offset="0.500" stop-color="#46c06f"/><stop offset="0.600" stop-color="#46c06f"/><stop offset="0.700" stop-color="#46c06f"/><stop offset="0.800" stop-color="#46c06f"/><stop offset="0.900" stop-color="#46c06f"/><stop offset="1.000" stop-color="#46c06f"/></linearGradient><linearGradient id="b47"><stop offset="0.000" stop-color="#2a778e"/><stop offset="0.015" stop-color="#27808e"/><stop offset="0.030" stop-color="#23888e"/><stop offset="0.050" stop-color="#1f958b"/><stop offset="0.080" stop-color="#22a884"/><stop offset="0.110" stop-color="#2cb17e"/><stop offset="0.150" stop-color="#3fbc73"/><stop offset="0.200" stop-color="#40bd72"/><stop offset="0.250" stop-color="#44bf70"/><stop offset="0.320" stop-color="#44bf70"/><stop offset="0.400" stop-color="#46c06f"/><stop offset="0.500" stop-color="#46c06f"/><stop offset="0.600" stop-color="#46c06f"/><stop offset="0.700" stop-color="#46c06f"/><stop offset="0.800" stop-color="#46c06f"/><stop offset="0.900" stop-color="#46c06f"/><stop offset="1.000" stop-color="#46c06f"/></linearGradient><linearGradient id="b48"><stop offset="0.000" stop-color="#297a8e"/><stop offset="0.015" stop-color="#26828e"/><stop offset="0.030" stop-color="#228b8d"/><stop offset="0.050" stop-color="#1f978b"/><stop offset="0.080" stop-color="#23a983"/><stop offset="0.110" stop-color="#2cb17e"/><stop offset="0.150" stop-color="#3fbc73"/><stop offset="0.200" stop-color="#40bd72"/><stop offset="0.250" stop-color="#42be71"/><stop offset="0.320" stop-color="#44bf70"/><stop offset="0.400" stop-color="#44bf70"/><stop offset="0.500" stop-color="#44bf70"/><stop offset="0.600" stop-color="#44bf70"/><stop offset="0.700" stop-color="#44bf70"/><stop offset="0.800" stop-color="#44bf70"/><stop offset="0.900" stop-color="#44bf70"/><stop offset="1.000" stop-color="#44bf70"/></linearGradient><linearGradient id="b49"><stop offset="0.000" stop-color="#277e8e"/><stop offset="0.015" stop-color="#25858e"/><stop offset="0.030" stop-color="#218e8d"/><stop offset="0.050" stop-color="#1f998a"/><stop offset="0.080" stop-color="#24aa83"/><stop offset="0.110" stop-color="#2db27d"/><stop offset="0.150" stop-color="#3dbc74"/><stop offset="0.200" stop-color="#3fbc73"/><stop offset="0.250" stop-color="#42be71"/><stop offset="0.320" stop-color="#42be71"/><stop offset="0.400" stop-color="#44bf70"/><stop offset="0.500" stop-color="#44bf70"/><stop offset="0.600" stop-color="#44bf70"/><stop offset="0.700" stop-color="#44bf70"/><stop offset="0.800" stop-color="#44bf70"/><stop offset="0.900" stop-color="#44bf70"/><stop offset="1.000" stop-color="#44bf70"/></linearGradient><linearGradient id="b50"><stop offset="0.000" stop-color="#26828e"/><stop offset="0.015" stop-color="#23898e"/><stop offset="0.030" stop-color="#21918c"/><stop offset="0.050" stop-color="#1e9c89"/><stop offset="0.080" stop-color="#25ac82"/><stop offset="0.110" stop-color="#2db27d"/><stop offset="0.150" stop-color="#3bbb75"/><stop offset="0.200" stop-color="#3fbc73"/><stop offset="0.250" stop-color="#40bd72"/><stop offset="0.320" stop-color="#40bd72"/><stop offset="0.400" stop-color="#40bd72"/><stop offset="0.500" stop-color="#40bd72"/><stop offset="0.600" stop-color="#40bd72"/><stop offset="0.700" stop-color="#40bd72"/><stop offset="0.800" stop-color="#40bd72"/><stop offset="0.900" stop-color="#40bd72"/><stop offset="1.000" stop-color="#40bd72"/></linearGradient><linearGradient id="b51"><stop offset="0.000" stop-color="#24868e"/><stop offset="0.015" stop-color="#228d8d"/><stop offset="0.030" stop-color="#1f948c"/><stop offset="0.050" stop-color="#1f9e89"/><stop offset="0.080" stop-color="#26ad81"/><stop offset="0.110" stop-color="#2eb37c"/><stop offset="0.150" stop-color="#3bbb75"/><stop offset="0.200" stop-color="#3dbc74"/><stop offset="0.250" stop-color="#3fbc73"/><stop offset="0.320" stop-color="#3fbc73"/><stop offset="0.400" stop-color="#3fbc73"/><stop offset="0.500" stop-color="#3fbc73"/><stop offset="0.600" stop-color="#3fbc73"/><stop offset="0.700" stop-color="#3fbc73"/><stop offset="0.800" stop-color="#3fbc73"/><stop offset="0.900" stop-color="#3fbc73"/><stop offset="1.000" stop-color="#3fbc73"/></linearGradient><linearGradient id="b52"><stop offset="0.000" stop-color="#23888e"/><stop offset="0.015" stop-color="#21908d"/><stop offset="0.030" stop-color="#1f968b"/><stop offset="0.050" stop-color="#1fa088"/><stop offset="0.080" stop-color="#26ad81"/><stop offset="0.110" stop-color="#2eb37c"/><stop offset="0.150" stop-color="#3aba76"/><stop offset="0.200" stop-color="#3bbb75"/><stop offset="0.250" stop-color="#3dbc74"/><stop offset="0.320" stop-color="#3dbc74"/><stop offset="0.400" stop-color="#3dbc74"/><stop offset="0.500" stop-color="#3dbc74"/><stop offset="0.600" stop-color="#3dbc74"/><stop offset="0.700" stop-color="#3dbc74"/><stop offset="0.800" stop-color="#3dbc74"/><stop offset="0.900" stop-color="#3dbc74"/><stop offset="1.000" stop-color="#3dbc74"/></linearGradient><linearGradient id="b53"><stop offset="0.000" stop-color="#228b8d"/><stop offset="0.015" stop-color="#20928c"/><stop offset="0.030" stop-color="#1f988b"/><stop offset="0.050" stop-color="#1fa188"/><stop offset="0.080" stop-color="#26ad81"/><stop offset="0.110" stop-color="#2db27d"/><stop offset="0.150" stop-color="#38b977"/><stop offset="0.200" stop-color="#3aba76"/><stop offset="0.250" stop-color="#3bbb75"/><stop offset="0.320" stop-color="#3bbb75"/><stop offset="0.400" stop-color="#3bbb75"/><stop offset="0.500" stop-color="#3bbb75"/><stop offset="0.600" stop-color="#3bbb75"/><stop offset="0.700" stop-color="#3bbb75"/><stop offset="0.800" stop-color="#3bbb75"/><stop offset="0.900" stop-color="#3bbb75"/><stop offset="1.000" stop-color="#3bbb75"/></linearGradient><linearGradient id="b54"><stop offset="0.000" stop-color="#218e8d"/><stop offset="0.015" stop-color="#20938c"/><stop offset="0.030" stop-color="#1f9a8a"/><stop offset="0.050" stop-color="#1fa187"/><stop offset="0.080" stop-color="#26ad81"/><stop offset="0.110" stop-color="#2db27d"/><stop offset="0.150" stop-color="#38b977"/><stop offset="0.200" stop-color="#3aba76"/><stop offset="0.250" stop-color="#3aba76"/><stop offset="0.320" stop-color="#3aba76"/><stop offset="0.400" stop-color="#3aba76"/><stop offset="0.500" stop-color="#3aba76"/><stop offset="0.600" stop-color="#3aba76"/><stop offset="0.700" stop-color="#3aba76"/><stop offset="0.800" stop-color="#3aba76"/><stop offset="0.900" stop-color="#3aba76"/><stop offset="1.000" stop-color="#3aba76"/></linearGradient><linearGradient id="b55"><stop offset="0.000" stop-color="#21918c"/><stop offset="0.015" stop-color="#1f968b"/><stop offset="0.030" stop-color="#1e9c89"/><stop offset="0.050" stop-color="#20a386"/><stop offset="0.080" stop-color="#26ad81"/><stop offset="0.110" stop-color="#2db27d"/><stop offset="0.150" stop-color="#37b878"/><stop offset="0.200" stop-color="#38b977"/><stop offset="0.250" stop-color="#38b977"/><stop offset="0.320" stop-color="#38b977"/><stop offset="0.400" stop-color="#38b977"/><stop offset="0.500" stop-color="#38b977"/><stop offset="0.600" stop-color="#38b977"/><stop offset="0.700" stop-color="#38b977"/><stop offset="0.800" stop-color="#38b977"/><stop offset="0.900" stop-color="#38b977"/><stop offset="1.000" stop-color="#38b977"/></linearGradient><linearGradient id="b56"><stop offset="0.000" stop-color="#20928c"/><stop offset="0.015" stop-color="#1f988b"/><stop offset="0.030" stop-color="#1f9e89"/><stop offset="0.050" stop-color="#20a486"/><stop offset="0.080" stop-color="#28ae80"/><stop offset="0.110" stop-color="#2eb37c"/><stop offset="0.150" stop-color="#37b878"/><stop offset="0.200" stop-color="#37b878"/><stop offset="0.250" stop-color="#38b977"/><stop offset="0.320" stop-color="#38b977"/><stop offset="0.400" stop-color="#38b977"/><stop offset="0.500" stop-color="#38b977"/><stop offset="0.600" stop-color="#38b977"/><stop offset="0.700" stop-color="#38b977"/><stop offset="0.800" stop-color="#38b977"/><stop offset="0.900" stop-color="#38b977"/><stop offset="1.000" stop-color="#38b977"/></linearGradient><linearGradient id="b57"><stop offset="0.000" stop-color="#1f958b"/><stop offset="0.015" stop-color="#1e9b8a"/><stop offset="0.030" stop-color="#1fa088"/><stop offset="0.050" stop-color="#21a685"/><stop offset="0.080" stop-color="#29af7f"/><stop offset="0.110" stop-color="#2eb37c"/><stop offset="0.150" stop-color="#37b878"/><stop offset="0.200" stop-color="#37b878"/><stop offset="0.250" stop-color="#38b977"/><stop offset="0.320" stop-color="#38b977"/><stop offset="0.400" stop-color="#38b977"/><stop offset="0.500" stop-color="#38b977"/><stop offset="0.600" stop-color="#38b977"/><stop offset="0.700" stop-color="#38b977"/><stop offset="0.800" stop-color="#38b977"/><stop offset="0.900" stop-color="#38b977"/><stop offset="1.000" stop-color="#38b977"/></linearGradient><linearGradient id="b58"><stop offset="0.000" stop-color="#1f988b"/><stop offset="0.015" stop-color="#1e9d89"/><stop offset="0.030" stop-color="#1fa187"/><stop offset="0.050" stop-color="#22a884"/><stop offset="0.080" stop-color="#2ab07f"/><stop offset="0.110" stop-color="#2fb47c"/><stop offset="0.150" stop-color="#37b878"/><stop offset="0.200" stop-color="#37b878"/><stop offset="0.250" stop-color="#37b878"/><stop offset="0.320" stop-color="#37b878"/><stop offset="0.400" stop-color="#37b878"/><stop offset="0.500" stop-color="#37b878"/><stop offset="0.600" stop-color="#37b878"/><stop offset="0.700" stop-color="#37b878"/><stop offset="0.800" stop-color="#37b878"/><stop offset="0.900" stop-color="#37b878"/><stop offset="1.000" stop-color="#37b878"/></linearGradient><linearGradient id="b59"><stop offset="0.000" stop-color="#1e9b8a"/><stop offset="0.015" stop-color="#1f9f88"/><stop offset="0.030" stop-color="#20a386"/><stop offset="0.050" stop-color="#24aa83"/><stop offset="0.080" stop-color="#2db27d"/><stop offset="0.110" stop-color="#31b57b"/><stop offset="0.150" stop-color="#37b878"/><stop offset="0.200" stop-color="#37b878"/><stop offset="0.250" stop-color="#37b878"/><stop offset="0.320" stop-color="#37b878"/><stop offset="0.400" stop-color="#37b878"/><stop offset="0.500" stop-color="#37b878"/><stop offset="0.600" stop-color="#37b878"/><stop offset="0.700" stop-color="#37b878"/><stop offset="0.800" stop-color="#37b878"/><stop offset="0.900" stop-color="#37b878"/><stop offset="1.000" stop-color="#37b878"/></linearGradient><linearGradient id="b60"><stop offset="0.000" stop-color="#1f9f88"/><stop offset="0.015" stop-color="#1fa287"/><stop offset="0.030" stop-color="#21a685"/><stop offset="0.050" stop-color="#25ac82"/><stop offset="0.080" stop-color="#2fb47c"/><stop offset="0.110" stop-color="#34b679"/><stop offset="0.150" stop-color="#38b977"/><stop offset="0.200" stop-color="#38b977"/><stop offset="0.250" stop-color="#38b977"/><stop offset="0.320" stop-color="#38b977"/><stop offset="0.400" stop-color="#38b977"/><stop offset="0.500" stop-color="#38b977"/><stop offset="0.600" stop-color="#38b977"/><stop offset="0.700" stop-color="#38b977"/><stop offset="0.800" stop-color="#38b977"/><stop offset="0.900" stop-color="#38b977"/><stop offset="1.000" stop-color="#38b977"/></linearGradient><linearGradient id="b61"><stop offset="0.000" stop-color="#1fa187"/><stop offset="0.015" stop-color="#20a486"/><stop offset="0.030" stop-color="#22a785"/><stop offset="0.050" stop-color="#26ad81"/><stop offset="0.080" stop-color="#31b57b"/><stop offset="0.110" stop-color="#35b779"/><stop offset="0.150" stop-color="#3aba76"/><stop offset="0.200" stop-color="#3aba76"/><stop offset="0.250" stop-color="#3aba76"/><stop offset="0.320" stop-color="#3aba76"/><stop offset="0.400" stop-color="#3aba76"/><stop offset="0.500" stop-color="#3aba76"/><stop offset="0.600" stop-color="#3aba76"/><stop offset="0.700" stop-color="#3aba76"/><stop offset="0.800" stop-color="#3aba76"/><stop offset="0.900" stop-color="#3aba76"/><stop offset="1.000" stop-color="#3aba76"/></linearGradient><linearGradient id="b62"><stop offset="0.000" stop-color="#21a685"/><stop offset="0.015" stop-color="#23a983"/><stop offset="0.030" stop-color="#25ab82"/><stop offset="0.050" stop-color="#2ab07f"/><stop offset="0.080" stop-color="#37b878"/><stop offset="0.110" stop-color="#3aba76"/><stop offset="0.150" stop-color="#3dbc74"/><stop offset="0.200" stop-color="#3dbc74"/><stop offset="0.250" stop-color="#3dbc74"/><stop offset="0.320" stop-color="#3dbc74"/><stop offset="0.400" stop-color="#3dbc74"/><stop offset="0.500" stop-color="#3dbc74"/><stop offset="0.600" stop-color="#3dbc74"/><stop offset="0.700" stop-color="#3dbc74"/><stop offset="0.800" stop-color="#3dbc74"/><stop offset="0.900" stop-color="#3dbc74"/><stop offset="1.000" stop-color="#3dbc74"/></linearGradient><linearGradient id="b63"><stop offset="0.000" stop-color="#28ae80"/><stop offset="0.015" stop-color="#2cb17e"/><stop offset="0.030" stop-color="#2eb37c"/><stop offset="0.050" stop-color="#35b779"/><stop offset="0.080" stop-color="#40bd72"/><stop offset="0.110" stop-color="#42be71"/><stop offset="0.150" stop-color="#46c06f"/><stop offset="0.200" stop-color="#46c06f"/><stop offset="0.250" stop-color="#46c06f"/><stop offset="0.320" stop-color="#46c06f"/><stop offset="0.400" stop-color="#46c06f"/><stop offset="0.500" stop-color="#46c06f"/><stop offset="0.600" stop-color="#46c06f"/><stop offset="0.700" stop-color="#46c06f"/><stop offset="0.800" stop-color="#46c06f"/><stop offset="0.900" stop-color="#46c06f"/><stop offset="1.000" stop-color="#46c06f"/></linearGradient><linearGradient id="b64"><stop offset="0.000" stop-color="#34b679"/><stop offset="0.015" stop-color="#38b977"/><stop offset="0.030" stop-color="#3bbb75"/><stop offset="0.050" stop-color="#42be71"/><stop offset="0.080" stop-color="#4cc26c"/><stop offset="0.110" stop-color="#4ec36b"/><stop offset="0.150" stop-color="#4ec36b"/><stop offset="0.200" stop-color="#4ec36b"/><stop offset="0.250" stop-color="#4ec36b"/><stop offset="0.320" stop-color="#4ec36b"/><stop offset="0.400" stop-color="#4ec36b"/><stop offset="0.500" stop-color="#4ec36b"/><stop offset="0.600" stop-color="#4ec36b"/><stop offset="0.700" stop-color="#4ec36b"/><stop offset="0.800" stop-color="#4ec36b"/><stop offset="0.900" stop-color="#4ec36b"/><stop offset="1.000" stop-color="#4ec36b"/></linearGradient><linearGradient id="b65"><stop offset="0.000" stop-color="#3bbb75"/><stop offset="0.015" stop-color="#3fbc73"/><stop offset="0.030" stop-color="#44bf70"/><stop offset="0.050" stop-color="#48c16e"/><stop offset="0.080" stop-color="#50c46a"/><stop offset="0.110" stop-color="#50c46a"/><stop offset="0.150" stop-color="#50c46a"/><stop offset="0.200" stop-color="#50c46a"/><stop offset="0.250" stop-color="#50c46a"/><stop offset="0.320" stop-color="#50c46a"/><stop offset="0.400" stop-color="#50c46a"/><stop offset="0.500" stop-color="#50c46a"/><stop offset="0.600" stop-color="#50c46a"/><stop offset="0.700" stop-color="#50c46a"/><stop offset="0.800" stop-color="#50c46a"/><stop offset="0.900" stop-color="#50c46a"/><stop offset="1.000" stop-color="#50c46a"/></linearGradient><linearGradient id="b66"><stop offset="0.000" stop-color="#3bbb75"/><stop offset="0.015" stop-color="#3fbc73"/><stop offset="0.030" stop-color="#44bf70"/><stop offset="0.050" stop-color="#48c16e"/><stop offset="0.080" stop-color="#4ec36b"/><stop offset="0.110" stop-color="#4ec36b"/><stop offset="0.150" stop-color="#4ec36b"/><stop offset="0.200" stop-color="#4ec36b"/><stop offset="0.250" stop-color="#4ec36b"/><stop offset="0.320" stop-color="#4ec36b"/><stop offset="0.400" stop-color="#4ec36b"/><stop offset="0.500" stop-color="#4ec36b"/><stop offset="0.600" stop-color="#4ec36b"/><stop offset="0.700" stop-color="#4ec36b"/><stop offset="0.800" stop-color="#4ec36b"/><stop offset="0.900" stop-color="#4ec36b"/><stop offset="1.000" stop-color="#4ec36b"/></linearGradient><linearGradient id="b67"><stop offset="0.000" stop-color="#34b679"/><stop offset="0.015" stop-color="#37b878"/><stop offset="0.030" stop-color="#3aba76"/><stop offset="0.050" stop-color="#3dbc74"/><stop offset="0.080" stop-color="#42be71"/><stop offset="0.110" stop-color="#42be71"/><stop offset="0.150" stop-color="#42be71"/><stop offset="0.200" stop-color="#42be71"/><stop offset="0.250" stop-color="#42be71"/><stop offset="0.320" stop-color="#42be71"/><stop offset="0.400" stop-color="#42be71"/><stop offset="0.500" stop-color="#42be71"/><stop offset="0.600" stop-color="#42be71"/><stop offset="0.700" stop-color="#42be71"/><stop offset="0.800" stop-color="#42be71"/><stop offset="0.900" stop-color="#42be71"/><stop offset="1.000" stop-color="#42be71"/></linearGradient><linearGradient id="b68"><stop offset="0.000" stop-color="#29af7f"/><stop offset="0.015" stop-color="#2cb17e"/><stop offset="0.030" stop-color="#2eb37c"/><stop offset="0.050" stop-color="#31b57b"/><stop offset="0.080" stop-color="#35b779"/><stop offset="0.110" stop-color="#35b779"/><stop offset="0.150" stop-color="#35b779"/><stop offset="0.200" stop-color="#35b779"/><stop offset="0.250" stop-color="#35b779"/><stop offset="0.320" stop-color="#35b779"/><stop offset="0.400" stop-color="#35b779"/><stop offset="0.500" stop-color="#35b779"/><stop offset="0.600" stop-color="#35b779"/><stop offset="0.700" stop-color="#35b779"/><stop offset="0.800" stop-color="#35b779"/><stop offset="0.900" stop-color="#35b779"/><stop offset="1.000" stop-color="#35b779"/></linearGradient><linearGradient id="b69"><stop offset="0.000" stop-color="#21a685"/><stop offset="0.015" stop-color="#22a785"/><stop offset="0.030" stop-color="#23a983"/><stop offset="0.050" stop-color="#24aa83"/><stop offset="0.080" stop-color="#25ac82"/><stop offset="0.110" stop-color="#25ac82"/><stop offset="0.150" stop-color="#25ac82"/><stop offset="0.200" stop-color="#25ac82"/><stop offset="0.250" stop-color="#25ac82"/><stop offset="0.320" stop-color="#25ac82"/><stop offset="0.400" stop-color="#25ac82"/><stop offset="0.500" stop-color="#25ac82"/><stop offset="0.600" stop-color="#25ac82"/><stop offset="0.700" stop-color="#25ac82"/><stop offset="0.800" stop-color="#25ac82"/><stop offset="0.900" stop-color="#25ac82"/><stop offset="1.000" stop-color="#25ac82"/></linearGradient><linearGradient id="b70"><stop offset="0.000" stop-color="#1e9b8a"/><stop offset="0.015" stop-color="#1e9c89"/><stop offset="0.030" stop-color="#1e9d89"/><stop offset="0.050" stop-color="#1f9e89"/><stop offset="0.080" stop-color="#1f9e89"/><stop offset="0.110" stop-color="#1f9e89"/><stop offset="0.150" stop-color="#1f9e89"/><stop offset="0.200" stop-color="#1f9e89"/><stop offset="0.250" stop-color="#1f9e89"/><stop offset="0.320" stop-color="#1f9e89"/><stop offset="0.400" stop-color="#1f9e89"/><stop offset="0.500" stop-color="#1f9e89"/><stop offset="0.600" stop-color="#1f9e89"/><stop offset="0.700" stop-color="#1f9e89"/><stop offset="0.800" stop-color="#1f9e89"/><stop offset="0.900" stop-color="#1f9e89"/><stop offset="1.000" stop-color="#1f9e89"/></linearGradient><linearGradient id="b71"><stop offset="0.000" stop-color="#218f8d"/><stop offset="0.015" stop-color="#21908d"/><stop offset="0.030" stop-color="#21918c"/><stop offset="0.050" stop-color="#21918c"/><stop offset="0.080" stop-color="#21918c"/><stop offset="0.110" stop-color="#21918c"/><stop offset="0.150" stop-color="#21918c"/><stop offset="0.200" stop-color="#21918c"/><stop offset="0.250" stop-color="#21918c"/><stop offset="0.320" stop-color="#21918c"/><stop offset="0.400" stop-color="#21918c"/><stop offset="0.500" stop-color="#21918c"/><stop offset="0.600" stop-color="#21918c"/><stop offset="0.700" stop-color="#21918c"/><stop offset="0.800" stop-color="#21918c"/><stop offset="0.900" stop-color="#21918c"/><stop offset="1.000" stop-color="#21918c"/></linearGradient><linearGradient id="b72"><stop offset="0.000" stop-color="#26828e"/><stop offset="0.015" stop-color="#26828e"/><stop offset="0.030" stop-color="#26828e"/><stop offset="0.050" stop-color="#26828e"/><stop offset="0.080" stop-color="#26828e"/><stop offset="0.110" stop-color="#26828e"/><stop offset="0.150" stop-color="#26828e"/><stop offset="0.200" stop-color="#26828e"/><stop offset="0.250" stop-color="#26828e"/><stop offset="0.320" stop-color="#26828e"/><stop offset="0.400" stop-color="#26828e"/><stop offset="0.500" stop-color="#26828e"/><stop offset="0.600" stop-color="#26828e"/><stop offset="0.700" stop-color="#26828e"/><stop offset="0.800" stop-color="#26828e"/><stop offset="0.900" stop-color="#26828e"/><stop offset="1.000" stop-color="#26828e"/></linearGradient><linearGradient id="b73"><stop offset="0.000" stop-color="#2c728e"/><stop offset="0.015" stop-color="#2c728e"/><stop offset="0.030" stop-color="#2c728e"/><stop offset="0.050" stop-color="#2c728e"/><stop offset="0.080" stop-color="#2c728e"/><stop offset="0.110" stop-color="#2c728e"/><stop offset="0.150" stop-color="#2c728e"/><stop offset="0.200" stop-color="#2c728e"/><stop offset="0.250" stop-color="#2c728e"/><stop offset="0.320" stop-color="#2c728e"/><stop offset="0.400" stop-color="#2c728e"/><stop offset="0.500" stop-color="#2c728e"/><stop offset="0.600" stop-color="#2c728e"/><stop offset="0.700" stop-color="#2c728e"/><stop offset="0.800" stop-color="#2c728e"/><stop offset="0.900" stop-color="#2c728e"/><stop offset="1.000" stop-color="#2c728e"/></linearGradient><linearGradient id="b74"><stop offset="0.000" stop-color="#34618d"/><stop offset="0.015" stop-color="#34618d"/><stop offset="0.030" stop-color="#34618d"/><stop offset="0.050" stop-color="#34618d"/><stop offset="0.080" stop-color="#34618d"/><stop offset="0.110" stop-color="#34618d"/><stop offset="0.150" stop-color="#34618d"/><stop offset="0.200" stop-color="#34618d"/><stop offset="0.250" stop-color="#34618d"/><stop offset="0.320" stop-color="#34618d"/><stop offset="0.400" stop-color="#34618d"/><stop offset="0.500" stop-color="#34618d"/><stop offset="0.600" stop-color="#34618d"/><stop offset="0.700" stop-color="#34618d"/><stop offset="0.800" stop-color="#34618d"/><stop offset="0.900" stop-color="#34618d"/><stop offset="1.000" stop-color="#34618d"/></linearGradient><linearGradient id="b75"><stop offset="0.000" stop-color="#3e4a89"/><stop offset="0.015" stop-color="#3e4a89"/><stop offset="0.030" stop-color="#3e4a89"/><stop offset="0.050" stop-color="#3e4a89"/><stop offset="0.080" stop-color="#3e4a89"/><stop offset="0.110" stop-color="#3e4a89"/><stop offset="0.150" stop-color="#3e4a89"/><stop offset="0.200" stop-color="#3e4a89"/><stop offset="0.250" stop-color="#3e4a89"/><stop offset="0.320" stop-color="#3e4a89"/><stop offset="0.400" stop-color="#3e4a89"/><stop offset="0.500" stop-color="#3e4a89"/><stop offset="0.600" stop-color="#3e4a89"/><stop offset="0.700" stop-color="#3e4a89"/><stop offset="0.800" stop-color="#3e4a89"/><stop offset="0.900" stop-color="#3e4a89"/><stop offset="1.000" stop-color="#3e4a89"/></linearGradient><linearGradient id="b76"><stop offset="0.000" stop-color="#46307e"/><stop offset="0.015" stop-color="#46307e"/><stop offset="0.030" stop-color="#46307e"/><stop offset="0.050" stop-color="#46307e"/><stop offset="0.080" stop-color="#46307e"/><stop offset="0.110" stop-color="#46307e"/><stop offset="0.150" stop-color="#46307e"/><stop offset="0.200" stop-color="#46307e"/><stop offset="0.250" stop-color="#46307e"/><stop offset="0.320" stop-color="#46307e"/><stop offset="0.400" stop-color="#46307e"/><stop offset="0.500" stop-color="#46307e"/><stop offset="0.600" stop-color="#46307e"/><stop offset="0.700" stop-color="#46307e"/><stop offset="0.800" stop-color="#46307e"/><stop offset="0.900" stop-color="#46307e"/><stop offset="1.000" stop-color="#46307e"/></linearGradient><linearGradient id="b77"><stop offset="0.000" stop-color="#481d6f"/><stop offset="0.015" stop-color="#481d6f"/><stop offset="0.030" stop-color="#481d6f"/><stop offset="0.050" stop-color="#481d6f"/><stop offset="0.080" stop-color="#481d6f"/><stop offset="0.110" stop-color="#481d6f"/><stop offset="0.150" stop-color="#481d6f"/><stop offset="0.200" stop-color="#481d6f"/><stop offset="0.250" stop-color="#481d6f"/><stop offset="0.320" stop-color="#481d6f"/><stop offset="0.400" stop-color="#481d6f"/><stop offset="0.500" stop-color="#481d6f"/><stop offset="0.600" stop-color="#481d6f"/><stop offset="0.700" stop-color="#481d6f"/><stop offset="0.800" stop-color="#481d6f"/><stop offset="0.900" stop-color="#481d6f"/><stop offset="1.000" stop-color="#481d6f"/></linearGradient><linearGradient id="b78"><stop offset="0.000" stop-color="#471365"/><stop offset="0.015" stop-color="#471365"/><stop offset="0.030" stop-color="#471365"/><stop offset="0.050" stop-color="#471365"/><stop offset="0.080" stop-color="#471365"/><stop offset="0.110" stop-color="#471365"/><stop offset="0.150" stop-color="#471365"/><stop offset="0.200" stop-color="#471365"/><stop offset="0.250" stop-color="#471365"/><stop offset="0.320" stop-color="#471365"/><stop offset="0.400" stop-color="#471365"/><stop offset="0.500" stop-color="#471365"/><stop offset="0.600" stop-color="#471365"/><stop offset="0.700" stop-color="#471365"/><stop offset="0.800" stop-color="#471365"/><stop offset="0.900" stop-color="#471365"/><stop offset="1.000" stop-color="#471365"/></linearGradient><linearGradient id="b79"><stop offset="0.000" stop-color="#460a5d"/><stop offset="0.015" stop-color="#460a5d"/><stop offset="0.030" stop-color="#460a5d"/><stop offset="0.050" stop-color="#460a5d"/><stop offset="0.080" stop-color="#460a5d"/><stop offset="0.110" stop-color="#460a5d"/><stop offset="0.150" stop-color="#460a5d"/><stop offset="0.200" stop-color="#460a5d"/><stop offset="0.250" stop-color="#460a5d"/><stop offset="0.320" stop-color="#460a5d"/><stop offset="0.400" stop-color="#460a5d"/><stop offset="0.500" stop-color="#460a5d"/><stop offset="0.600" stop-color="#460a5d"/><stop offset="0.700" stop-color="#460a5d"/><stop offset="0.800" stop-color="#460a5d"/><stop offset="0.900" stop-color="#460a5d"/><stop offset="1.000" stop-color="#460a5d"/></linearGradient><linearGradient id="b80"><stop offset="0.000" stop-color="#450457"/><stop offset="0.015" stop-color="#450457"/><stop offset="0.030" stop-color="#450457"/><stop offset="0.050" stop-color="#450457"/><stop offset="0.080" stop-color="#450457"/><stop offset="0.110" stop-color="#450457"/><stop offset="0.150" stop-color="#450457"/><stop offset="0.200" stop-color="#450457"/><stop offset="0.250" stop-color="#450457"/><stop offset="0.320" stop-color="#450457"/><stop offset="0.400" stop-color="#450457"/><stop offset="0.500" stop-color="#450457"/><stop offset="0.600" stop-color="#450457"/><stop offset="0.700" stop-color="#450457"/><stop offset="0.800" stop-color="#450457"/><stop offset="0.900" stop-color="#450457"/><stop offset="1.000" stop-color="#450457"/></linearGradient><linearGradient id="c0"><stop offset="0.000" stop-color="#26828e"/><stop offset="0.015" stop-color="#228b8d"/><stop offset="0.030" stop-color="#20938c"/><stop offset="0.050" stop-color="#1f9f88"/><stop offset="0.080" stop-color="#2eb37c"/><stop offset="0.110" stop-color="#4ac16d"/><stop offset="0.150" stop-color="#69cd5b"/><stop offset="0.200" stop-color="#95d840"/><stop offset="0.250" stop-color="#a8db34"/><stop offset="0.320" stop-color="#c0df25"/><stop offset="0.400" stop-color="#cde11d"/><stop offset="0.500" stop-color="#dfe318"/><stop offset="0.600" stop-color="#e7e419"/><stop offset="0.700" stop-color="#efe51c"/><stop offset="0.800" stop-color="#f4e61e"/><stop offset="0.900" stop-color="#f6e620"/><stop offset="1.000" stop-color="#f8e621"/></linearGradient><linearGradient id="c1"><stop offset="0.000" stop-color="#25838e"/><stop offset="0.015" stop-color="#228c8d"/><stop offset="0.030" stop-color="#1f958b"/><stop offset="0.050" stop-color="#1fa188"/><stop offset="0.080" stop-color="#2fb47c"/><stop offset="0.110" stop-color="#4ec36b"/><stop offset="0.150" stop-color="#6ccd5a"/><stop offset="0.200" stop-color="#95d840"/><stop offset="0.250" stop-color="#aadc32"/><stop offset="0.320" stop-color="#c2df23"/><stop offset="0.400" stop-color="#d0e11c"/><stop offset="0.500" stop-color="#dfe318"/><stop offset="0.600" stop-color="#e7e419"/><stop offset="0.700" stop-color="#efe51c"/><stop offset="0.800" stop-color="#f4e61e"/><stop offset="0.900" stop-color="#f6e620"/><stop offset="1.000" stop-color="#f8e621"/></linearGradient><linearGradient id="c2"><stop offset="0.000" stop-color="#25858e"/><stop offset="0.015" stop-color="#218e8d"/><stop offset="0.030" stop-color="#1f968b"/><stop offset="0.050" stop-color="#1fa287"/><stop offset="0.080" stop-color="#32b67a"/><stop offset="0.110" stop-color="#50c46a"/><stop offset="0.150" stop-color="#6ece58"/><stop offset="0.200" stop-color="#98d83e"/><stop offset="0.250" stop-color="#addc30"/><stop offset="0.320" stop-color="#c2df23"/><stop offset="0.400" stop-color="#d0e11c"/><stop offset="0.500" stop-color="#e2e418"/><stop offset="0.600" stop-color="#eae51a"/><stop offset="0.700" stop-color="#f1e51d"/><stop offset="0.800" stop-color="#f4e61e"/><stop offset="0.900" stop-color="#f8e621"/><stop offset="1.000" stop-color="#fbe723"/></linearGradient><linearGradient id="c3"><stop offset="0.000" stop-color="#24868e"/><stop offset="0.015" stop-color="#21908d"/><stop offset="0.030" stop-color="#1f988b"/><stop offset="0.050" stop-color="#20a486"/><stop offset="0.080" stop-color="#34b679"/><stop offset="0.110" stop-color="#52c569"/><stop offset="0.150" stop-color="#70cf57"/><stop offset="0.200" stop-color="#9bd93c"/><stop offset="0.250" stop-color="#addc30"/><stop offset="0.320" stop-color="#c5e021"/><stop offset="0.400" stop-color="#d2e21b"/><stop offset="0.500" stop-color="#e2e418"/><stop offset="0.600" stop-color="#eae51a"/><stop offset="0.700" stop-color="#f1e51d"/><stop offset="0.800" stop-color="#f6e620"/><stop offset="0.900" stop-color="#f8e621"/><stop offset="1.000" stop-color="#fbe723"/></linearGradient><linearGradient id="c4"><stop offset="0.000" stop-color="#23888e"/><stop offset="0.015" stop-color="#20928c"/><stop offset="0.030" stop-color="#1f9a8a"/><stop offset="0.050" stop-color="#21a685"/><stop offset="0.080" stop-color="#37b878"/><stop offset="0.110" stop-color="#56c667"/><stop offset="0.150" stop-color="#73d056"/><stop offset="0.200" stop-color="#9dd93b"/><stop offset="0.250" stop-color="#b0dd2f"/><stop offset="0.320" stop-color="#c5e021"/><stop offset="0.400" stop-color="#d5e21a"/><stop offset="0.500" stop-color="#e5e419"/><stop offset="0.600" stop-color="#ece51b"/><stop offset="0.700" stop-color="#f1e51d"/><stop offset="0.800" stop-color="#f6e620"/><stop offset="0.900" stop-color="#f8e621"/><stop offset="1.000" stop-color="#fbe723"/></linearGradient><linearGradient id="c5"><stop offset="0.000" stop-color="#238a8d"/><stop offset="0.015" stop-color="#20928c"/><stop offset="0.030" stop-color="#1e9c89"/><stop offset="0.050" stop-color="#22a884"/><stop offset="0.080" stop-color="#3aba76"/><stop offset="0.110" stop-color="#58c765"/><stop offset="0.150" stop-color="#75d054"/><stop offset="0.200" stop-color="#a0da39"/><stop offset="0.250" stop-color="#b2dd2d"/><stop offset="0.320" stop-color="#c8e020"/><stop offset="0.400" stop-color="#d5e21a"/><stop offset="0.500" stop-color="#e7e419"/><stop offset="0.600" stop-color="#ece51b"/><stop offset="0.700" stop-color="#f4e61e"/><stop offset="0.800" stop-color="#f6e620"/><stop offset="0.900" stop-color="#f8e621"/><stop offset="1.000" stop-color="#fbe723"/></linearGradient><linearGradient id="c6"><stop offset="0.000" stop-color="#228b8d"/><stop offset="0.015" stop-color="#1f948c"/><stop offset="0.030" stop-color="#1f9e89"/><stop offset="0.050" stop-color="#24aa83"/><stop offset="0.080" stop-color="#3bbb75"/><stop offset="0.110" stop-color="#5ac864"/><stop offset="0.150" stop-color="#77d153"/><stop offset="0.200" stop-color="#a2da37"/><stop offset="0.250" stop-color="#b2dd2d"/><stop offset="0.320" stop-color="#cae11f"/><stop offset="0.400" stop-color="#d8e219"/><stop offset="0.500" stop-color="#e7e419"/><stop offset="0.600" stop-color="#efe51c"/><stop offset="0.700" stop-color="#f4e61e"/><stop offset="0.800" stop-color="#f8e621"/><stop offset="0.900" stop-color="#fbe723"/><stop offset="1.000" stop-color="#fde725"/></linearGradient><linearGradient id="c7"><stop offset="0.000" stop-color="#228d8d"/><stop offset="0.015" stop-color="#1f968b"/><stop offset="0.030" stop-color="#1fa088"/><stop offset="0.050" stop-color="#25ac82"/><stop offset="0.080" stop-color="#3fbc73"/><stop offset="0.110" stop-color="#5ec962"/><stop offset="0.150" stop-color="#7cd250"/><stop offset="0.200" stop-color="#a2da37"/><stop offset="0.250" stop-color="#b5de2b"/><stop offset="0.320" stop-color="#cae11f"/><stop offset="0.400" stop-color="#d8e219"/><stop offset="0.500" stop-color="#eae51a"/><stop offset="0.600" stop-color="#efe51c"/><stop offset="0.700" stop-color="#f4e61e"/><stop offset="0.800" stop-color="#f8e621"/><stop offset="0.900" stop-color="#fbe723"/><stop offset="1.000" stop-color="#fde725"/></linearGradient><linearGradient id="c8"><stop offset="0.000" stop-color="#218f8d"/><stop offset="0.015" stop-color="#1f988b"/><stop offset="0.030" stop-color="#1fa187"/><stop offset="0.050" stop-color="#27ad81"/><stop offset="0.080" stop-color="#42be71"/><stop offset="0.110" stop-color="#60ca60"/><stop offset="0.150" stop-color="#7fd34e"/><stop offset="0.200" stop-color="#a5db36"/><stop offset="0.250" stop-color="#b8de29"/><stop offset="0.320" stop-color="#cde11d"/><stop offset="0.400" stop-color="#dae319"/><stop offset="0.500" stop-color="#eae51a"/><stop offset="0.600" stop-color="#efe51c"/><stop offset="0.700" stop-color="#f6e620"/><stop offset="0.800" stop-color="#f8e621"/><stop offset="0.900" stop-color="#fbe723"/><stop offset="1.000" stop-color="#fde725"/></linearGradient><linearGradient id="c9"><stop offset="0.000" stop-color="#21918c"/><stop offset="0.015" stop-color="#1f998a"/><stop offset="0.030" stop-color="#1fa287"/><stop offset="0.050" stop-color="#29af7f"/><stop offset="0.080" stop-color="#44bf70"/><stop offset="0.110" stop-color="#65cb5e"/><stop offset="0.150" stop-color="#81d34d"/><stop offset="0.200" stop-color="#a8db34"/><stop offset="0.250" stop-color="#bade28"/><stop offset="0.320" stop-color="#cde11d"/><stop offset="0.400" stop-color="#dae319"/><stop offset="0.500" stop-color="#ece51b"/><stop offset="0.600" stop-color="#f1e51d"/><stop offset="0.700" stop-color="#f6e620"/><stop offset="0.800" stop-color="#f8e621"/><stop offset="0.900" stop-color="#fbe723"/><stop offset="1.000" stop-color="#fde725"/></linearGradient><linearGradient id="c10"><stop offset="0.000" stop-color="#21918c"/><stop offset="0.015" stop-color="#1f998a"/><stop offset="0.030" stop-color="#1fa287"/><stop offset="0.050" stop-color="#29af7f"/><stop offset="0.080" stop-color="#44bf70"/><stop offset="0.110" stop-color="#65cb5e"/><stop offset="0.150" stop-color="#81d34d"/><stop offset="0.200" stop-color="#a8db34"/><stop offset="0.250" stop-color="#bade28"/><stop offset="0.320" stop-color="#cde11d"/><stop offset="0.400" stop-color="#dae319"/><stop offset="0.500" stop-color="#ece51b"/><stop offset="0.600" stop-color="#f1e51d"/><stop offset="0.700" stop-color="#f6e620"/><stop offset="0.800" stop-color="#f8e621"/><stop offset="0.900" stop-color="#fbe723"/><stop offset="1.000" stop-color="#fde725"/></linearGradient><linearGradient id="c11"><stop offset="0.000" stop-color="#228d8d"/><stop offset="0.015" stop-color="#1f968b"/><stop offset="0.030" stop-color="#1fa088"/><stop offset="0.050" stop-color="#25ac82"/><stop offset="0.080" stop-color="#3dbc74"/><stop offset="0.110" stop-color="#5ac864"/><stop offset="0.150" stop-color="#77d153"/><stop offset="0.200" stop-color="#a0da39"/><stop offset="0.250" stop-color="#b2dd2d"/><stop offset="0.320" stop-color="#cae11f"/><stop offset="0.400" stop-color="#d8e219"/><stop offset="0.500" stop-color="#eae51a"/><stop offset="0.600" stop-color="#efe51c"/><stop offset="0.700" stop-color="#f4e61e"/><stop offset="0.800" stop-color="#f8e621"/><stop offset="0.900" stop-color="#fbe723"/><stop offset="1.000" stop-color="#fde725"/></linearGradient><linearGradient id="c12"><stop offset="0.000" stop-color="#238a8d"/><stop offset="0.015" stop-color="#20928c"/><stop offset="0.030" stop-color="#1e9b8a"/><stop offset="0.050" stop-color="#22a785"/><stop offset="0.080" stop-color="#35b779"/><stop offset="0.110" stop-color="#50c46a"/><stop offset="0.150" stop-color="#6ece58"/><stop offset="0.200" stop-color="#98d83e"/><stop offset="0.250" stop-color="#addc30"/><stop offset="0.320" stop-color="#c5e021"/><stop offset="0.400" stop-color="#d5e21a"/><stop offset="0.500" stop-color="#e7e419"/><stop offset="0.600" stop-color="#ece51b"/><stop offset="0.700" stop-color="#f4e61e"/><stop offset="0.800" stop-color="#f8e621"/><stop offset="0.900" stop-color="#fbe723"/><stop offset="1.000" stop-color="#fde725"/></linearGradient><linearGradient id="c13"><stop offset="0.000" stop-color="#24868e"/><stop offset="0.015" stop-color="#218f8d"/><stop offset="0.030" stop-color="#1f978b"/><stop offset="0.050" stop-color="#20a386"/><stop offset="0.080" stop-color="#2eb37c"/><stop offset="0.110" stop-color="#48c16e"/><stop offset="0.150" stop-color="#65cb5e"/><stop offset="0.200" stop-color="#90d743"/><stop offset="0.250" stop-color="#a5db36"/><stop offset="0.320" stop-color="#c0df25"/><stop offset="0.400" stop-color="#d0e11c"/><stop offset="0.500" stop-color="#e5e419"/><stop offset="0.600" stop-color="#ece51b"/><stop offset="0.700" stop-color="#f1e51d"/><stop offset="0.800" stop-color="#f6e620"/><stop offset="0.900" stop-color="#f8e621"/><stop offset="1.000" stop-color="#fbe723"/></linearGradient><linearGradient id="c14"><stop offset="0.000" stop-color="#26828e"/><stop offset="0.015" stop-color="#228b8d"/><stop offset="0.030" stop-color="#20938c"/><stop offset="0.050" stop-color="#1f9f88"/><stop offset="0.080" stop-color="#29af7f"/><stop offset="0.110" stop-color="#3fbc73"/><stop offset="0.150" stop-color="#5cc863"/><stop offset="0.200" stop-color="#89d548"/><stop offset="0.250" stop-color="#a0da39"/><stop offset="0.320" stop-color="#bddf26"/><stop offset="0.400" stop-color="#cde11d"/><stop offset="0.500" stop-color="#e2e418"/><stop offset="0.600" stop-color="#eae51a"/><stop offset="0.700" stop-color="#f1e51d"/><stop offset="0.800" stop-color="#f6e620"/><stop offset="0.900" stop-color="#f8e621"/><stop offset="1.000" stop-color="#fbe723"/></linearGradient><linearGradient id="c15"><stop offset="0.000" stop-color="#27808e"/><stop offset="0.015" stop-color="#24878e"/><stop offset="0.030" stop-color="#21908d"/><stop offset="0.050" stop-color="#1e9b8a"/><stop offset="0.080" stop-color="#25ab82"/><stop offset="0.110" stop-color="#37b878"/><stop offset="0.150" stop-color="#54c568"/><stop offset="0.200" stop-color="#81d34d"/><stop offset="0.250" stop-color="#98d83e"/><stop offset="0.320" stop-color="#b8de29"/><stop offset="0.400" stop-color="#cae11f"/><stop offset="0.500" stop-color="#dfe318"/><stop offset="0.600" stop-color="#e7e419"/><stop offset="0.700" stop-color="#efe51c"/><stop offset="0.800" stop-color="#f4e61e"/><stop offset="0.900" stop-color="#f6e620"/><stop offset="1.000" stop-color="#f8e621"/></linearGradient><linearGradient id="c16"><stop offset="0.000" stop-color="#297b8e"/><stop offset="0.015" stop-color="#26828e"/><stop offset="0.030" stop-color="#228b8d"/><stop offset="0.050" stop-color="#1f958b"/><stop offset="0.080" stop-color="#21a585"/><stop offset="0.110" stop-color="#2eb37c"/><stop offset="0.150" stop-color="#48c16e"/><stop offset="0.200" stop-color="#75d054"/><stop offset="0.250" stop-color="#8ed645"/><stop offset="0.320" stop-color="#b0dd2f"/><stop offset="0.400" stop-color="#c2df23"/><stop offset="0.500" stop-color="#dde318"/><stop offset="0.600" stop-color="#e5e419"/><stop offset="0.700" stop-color="#ece51b"/><stop offset="0.800" stop-color="#f1e51d"/><stop offset="0.900" stop-color="#f4e61e"/><stop offset="1.000" stop-color="#f6e620"/></linearGradient><linearGradient id="c17"><stop offset="0.000" stop-color="#2c728e"/><stop offset="0.015" stop-color="#297a8e"/><stop offset="0.030" stop-color="#26828e"/><stop offset="0.050" stop-color="#228c8d"/><stop offset="0.080" stop-color="#1e9c89"/><stop offset="0.110" stop-color="#24aa83"/><stop offset="0.150" stop-color="#37b878"/><stop offset="0.200" stop-color="#5cc863"/><stop offset="0.250" stop-color="#75d054"/><stop offset="0.320" stop-color="#98d83e"/><stop offset="0.400" stop-color="#b0dd2f"/><stop offset="0.500" stop-color="#cde11d"/><stop offset="0.600" stop-color="#d8e219"/><stop offset="0.700" stop-color="#e5e419"/><stop offset="0.800" stop-color="#eae51a"/><stop offset="0.900" stop-color="#efe51c"/><stop offset="1.000" stop-color="#f1e51d"/></linearGradient><linearGradient id="c18"><stop offset="0.000" stop-color="#306a8e"/><stop offset="0.015" stop-color="#2c718e"/><stop offset="0.030" stop-color="#29798e"/><stop offset="0.050" stop-color="#25838e"/><stop offset="0.080" stop-color="#20928c"/><stop offset="0.110" stop-color="#1fa088"/><stop offset="0.150" stop-color="#28ae80"/><stop offset="0.200" stop-color="#44bf70"/><stop offset="0.250" stop-color="#5ec962"/><stop offset="0.320" stop-color="#84d44b"/><stop offset="0.400" stop-color="#9dd93b"/><stop offset="0.500" stop-color="#c0df25"/><stop offset="0.600" stop-color="#cde11d"/><stop offset="0.700" stop-color="#dae319"/><stop offset="0.800" stop-color="#e5e419"/><stop offset="0.900" stop-color="#e7e419"/><stop offset="1.000" stop-color="#ece51b"/></linearGradient><linearGradient id="c19"><stop offset="0.000" stop-color="#34618d"/><stop offset="0.015" stop-color="#30698e"/><stop offset="0.030" stop-color="#2d718e"/><stop offset="0.050" stop-color="#297a8e"/><stop offset="0.080" stop-color="#23888e"/><stop offset="0.110" stop-color="#1f968b"/><stop offset="0.150" stop-color="#20a486"/><stop offset="0.200" stop-color="#32b67a"/><stop offset="0.250" stop-color="#4ac16d"/><stop offset="0.320" stop-color="#6ece58"/><stop offset="0.400" stop-color="#8bd646"/><stop offset="0.500" stop-color="#b2dd2d"/><stop offset="0.600" stop-color="#c2df23"/><stop offset="0.700" stop-color="#d2e21b"/><stop offset="0.800" stop-color="#dde318"/><stop offset="0.900" stop-color="#e2e418"/><stop offset="1.000" stop-color="#e7e419"/></linearGradient><linearGradient id="c20"><stop offset="0.000" stop-color="#39558c"/><stop offset="0.015" stop-color="#365d8d"/><stop offset="0.030" stop-color="#33638d"/><stop offset="0.050" stop-color="#2f6c8e"/><stop offset="0.080" stop-color="#297a8e"/><stop offset="0.110" stop-color="#24868e"/><stop offset="0.150" stop-color="#1f948c"/><stop offset="0.200" stop-color="#21a585"/><stop offset="0.250" stop-color="#2cb17e"/><stop offset="0.320" stop-color="#46c06f"/><stop offset="0.400" stop-color="#60ca60"/><stop offset="0.500" stop-color="#86d549"/><stop offset="0.600" stop-color="#95d840"/><stop offset="0.700" stop-color="#a5db36"/><stop offset="0.800" stop-color="#b2dd2d"/><stop offset="0.900" stop-color="#b8de29"/><stop offset="1.000" stop-color="#bddf26"/></linearGradient><linearGradient id="c21"><stop offset="0.000" stop-color="#3f4889"/><stop offset="0.015" stop-color="#3c4f8a"/><stop offset="0.030" stop-color="#3a548c"/><stop offset="0.050" stop-color="#365c8d"/><stop offset="0.080" stop-color="#306a8e"/><stop offset="0.110" stop-color="#2b758e"/><stop offset="0.150" stop-color="#26828e"/><stop offset="0.200" stop-color="#20928c"/><stop offset="0.250" stop-color="#1f9e89"/><stop offset="0.320" stop-color="#27ad81"/><stop offset="0.400" stop-color="#38b977"/><stop offset="0.500" stop-color="#56c667"/><stop offset="0.600" stop-color="#65cb5e"/><stop offset="0.700" stop-color="#75d054"/><stop offset="0.800" stop-color="#7fd34e"/><stop offset="0.900" stop-color="#84d44b"/><stop offset="1.000" stop-color="#89d548"/></linearGradient><linearGradient id="c22"><stop offset="0.000" stop-color="#443b84"/><stop offset="0.015" stop-color="#424086"/><stop offset="0.030" stop-color="#404588"/><stop offset="0.050" stop-color="#3e4a89"/><stop offset="0.080" stop-color="#38588c"/><stop offset="0.110" stop-color="#32648e"/><stop offset="0.150" stop-color="#2d708e"/><stop offset="0.200" stop-color="#277f8e"/><stop offset="0.250" stop-color="#238a8d"/><stop offset="0.320" stop-color="#1f998a"/><stop offset="0.400" stop-color="#21a685"/><stop offset="0.500" stop-color="#31b57b"/><stop offset="0.600" stop-color="#3dbc74"/><stop offset="0.700" stop-color="#4ac16d"/><stop offset="0.800" stop-color="#52c569"/><stop offset="0.900" stop-color="#56c667"/><stop offset="1.000" stop-color="#5ac864"/></linearGradient><linearGradient id="c23"><stop offset="0.000" stop-color="#46327e"/><stop offset="0.015" stop-color="#453581"/><stop offset="0.030" stop-color="#443a83"/><stop offset="0.050" stop-color="#423f85"/><stop offset="0.080" stop-color="#3e4989"/><stop offset="0.110" stop-color="#3a548c"/><stop offset="0.150" stop-color="#355f8d"/><stop offset="0.200" stop-color="#2f6c8e"/><stop offset="0.250" stop-color="#2a768e"/><stop offset="0.320" stop-color="#25838e"/><stop offset="0.400" stop-color="#218f8d"/><stop offset="0.500" stop-color="#1e9c89"/><stop offset="0.600" stop-color="#1fa187"/><stop offset="0.700" stop-color="#22a785"/><stop offset="0.800" stop-color="#25ac82"/><stop offset="0.900" stop-color="#27ad81"/><stop offset="1.000" stop-color="#29af7f"/></linearGradient><linearGradient id="c24"><stop offset="0.000" stop-color="#482979"/><stop offset="0.015" stop-color="#472d7b"/><stop offset="0.030" stop-color="#472f7d"/><stop offset="0.050" stop-color="#46337f"/><stop offset="0.080" stop-color="#443b84"/><stop offset="0.110" stop-color="#414487"/><stop offset="0.150" stop-color="#3d4d8a"/><stop offset="0.200" stop-color="#38588c"/><stop offset="0.250" stop-color="#34618d"/><stop offset="0.320" stop-color="#2e6d8e"/><stop offset="0.400" stop-color="#2a768e"/><stop offset="0.500" stop-color="#26828e"/><stop offset="0.600" stop-color="#24868e"/><stop offset="0.700" stop-color="#228c8d"/><stop offset="0.800" stop-color="#218f8d"/><stop offset="0.900" stop-color="#21918c"/><stop offset="1.000" stop-color="#20928c"/></linearGradient><linearGradient id="c25"><stop offset="0.000" stop-color="#482071"/><stop offset="0.015" stop-color="#482374"/><stop offset="0.030" stop-color="#482475"/><stop offset="0.050" stop-color="#482677"/><stop offset="0.080" stop-color="#472d7b"/><stop offset="0.110" stop-color="#46337f"/><stop offset="0.150" stop-color="#443a83"/><stop offset="0.200" stop-color="#414287"/><stop offset="0.250" stop-color="#3e4c8a"/><stop offset="0.320" stop-color="#39558c"/><stop offset="0.400" stop-color="#355f8d"/><stop offset="0.500" stop-color="#30698e"/><stop offset="0.600" stop-color="#2e6d8e"/><stop offset="0.700" stop-color="#2d718e"/><stop offset="0.800" stop-color="#2c738e"/><stop offset="0.900" stop-color="#2b758e"/><stop offset="1.000" stop-color="#2a778e"/></linearGradient><linearGradient id="c26"><stop offset="0.000" stop-color="#481d6f"/><stop offset="0.015" stop-color="#481f70"/><stop offset="0.030" stop-color="#482173"/><stop offset="0.050" stop-color="#482374"/><stop offset="0.080" stop-color="#482878"/><stop offset="0.110" stop-color="#472d7b"/><stop offset="0.150" stop-color="#46337f"/><stop offset="0.200" stop-color="#443b84"/><stop offset="0.250" stop-color="#414287"/><stop offset="0.320" stop-color="#3e4c8a"/><stop offset="0.400" stop-color="#3a538b"/><stop offset="0.500" stop-color="#365d8d"/><stop offset="0.600" stop-color="#34618d"/><stop offset="0.700" stop-color="#32658e"/><stop offset="0.800" stop-color="#31688e"/><stop offset="0.900" stop-color="#2f6b8e"/><stop offset="1.000" stop-color="#2e6d8e"/></linearGradient><linearGradient id="c27"><stop offset="0.000" stop-color="#481b6d"/><stop offset="0.015" stop-color="#481c6e"/><stop offset="0.030" stop-color="#481d6f"/><stop offset="0.050" stop-color="#481f70"/><stop offset="0.080" stop-color="#482374"/><stop offset="0.110" stop-color="#482677"/><stop offset="0.150" stop-color="#472c7a"/><stop offset="0.200" stop-color="#46337f"/><stop offset="0.250" stop-color="#443983"/><stop offset="0.320" stop-color="#424186"/><stop offset="0.400" stop-color="#3f4889"/><stop offset="0.500" stop-color="#3c508b"/><stop offset="0.600" stop-color="#3a548c"/><stop offset="0.700" stop-color="#38598c"/><stop offset="0.800" stop-color="#365c8d"/><stop offset="0.900" stop-color="#355f8d"/><stop offset="1.000" stop-color="#33628d"/></linearGradient><linearGradient id="c28"><stop offset="0.000" stop-color="#48186a"/><stop offset="0.015" stop-color="#481a6c"/><stop offset="0.030" stop-color="#481a6c"/><stop offset="0.050" stop-color="#481c6e"/><stop offset="0.080" stop-color="#481d6f"/><stop offset="0.110" stop-color="#482071"/><stop offset="0.150" stop-color="#482576"/><stop offset="0.200" stop-color="#472a7a"/><stop offset="0.250" stop-color="#472f7d"/><stop offset="0.320" stop-color="#453781"/><stop offset="0.400" stop-color="#443b84"/><stop offset="0.500" stop-color="#414287"/><stop offset="0.600" stop-color="#3f4788"/><stop offset="0.700" stop-color="#3e4c8a"/><stop offset="0.800" stop-color="#3c508b"/><stop offset="0.900" stop-color="#3a538b"/><stop offset="1.000" stop-color="#39568c"/></linearGradient><linearGradient id="c29"><stop offset="0.000" stop-color="#481769"/><stop offset="0.015" stop-color="#48186a"/><stop offset="0.030" stop-color="#481a6c"/><stop offset="0.050" stop-color="#481b6d"/><stop offset="0.080" stop-color="#481c6e"/><stop offset="0.110" stop-color="#481f70"/><stop offset="0.150" stop-color="#482374"/><stop offset="0.200" stop-color="#482878"/><stop offset="0.250" stop-color="#472d7b"/><stop offset="0.320" stop-color="#46337f"/><stop offset="0.400" stop-color="#453882"/><stop offset="0.500" stop-color="#433e85"/><stop offset="0.600" stop-color="#414487"/><stop offset="0.700" stop-color="#3f4889"/><stop offset="0.800" stop-color="#3d4d8a"/><stop offset="0.900" stop-color="#3c508b"/><stop offset="1.000" stop-color="#3a538b"/></linearGradient><linearGradient id="c30"><stop offset="0.000" stop-color="#48186a"/><stop offset="0.015" stop-color="#48186a"/><stop offset="0.030" stop-color="#481a6c"/><stop offset="0.050" stop-color="#481b6d"/><stop offset="0.080" stop-color="#481d6f"/><stop offset="0.110" stop-color="#482071"/><stop offset="0.150" stop-color="#482475"/><stop offset="0.200" stop-color="#482878"/><stop offset="0.250" stop-color="#472d7b"/><stop offset="0.320" stop-color="#46337f"/><stop offset="0.400" stop-color="#443983"/><stop offset="0.500" stop-color="#423f85"/><stop offset="0.600" stop-color="#404588"/><stop offset="0.700" stop-color="#3e4a89"/><stop offset="0.800" stop-color="#3c508b"/><stop offset="0.900" stop-color="#3a538b"/><stop offset="1.000" stop-color="#38588c"/></linearGradient><linearGradient id="c31"><stop offset="0.000" stop-color="#48186a"/><stop offset="0.015" stop-color="#481a6c"/><stop offset="0.030" stop-color="#481b6d"/><stop offset="0.050" stop-color="#481c6e"/><stop offset="0.080" stop-color="#481d6f"/><stop offset="0.110" stop-color="#482071"/><stop offset="0.150" stop-color="#482475"/><stop offset="0.200" stop-color="#482979"/><stop offset="0.250" stop-color="#472e7c"/><stop offset="0.320" stop-color="#463480"/><stop offset="0.400" stop-color="#443983"/><stop offset="0.500" stop-color="#424086"/><stop offset="0.600" stop-color="#3f4788"/><stop offset="0.700" stop-color="#3d4d8a"/><stop offset="0.800" stop-color="#3b528b"/><stop offset="0.900" stop-color="#39568c"/><stop offset="1.000" stop-color="#375b8d"/></linearGradient><linearGradient id="c32"><stop offset="0.000" stop-color="#481a6c"/><stop offset="0.015" stop-color="#481a6c"/><stop offset="0.030" stop-color="#481b6d"/><stop offset="0.050" stop-color="#481c6e"/><stop offset="0.080" stop-color="#481f70"/><stop offset="0.110" stop-color="#482173"/><stop offset="0.150" stop-color="#482576"/><stop offset="0.200" stop-color="#482979"/><stop offset="0.250" stop-color="#472e7c"/><stop offset="0.320" stop-color="#463480"/><stop offset="0.400" stop-color="#443a83"/><stop offset="0.500" stop-color="#424186"/><stop offset="0.600" stop-color="#3f4889"/><stop offset="0.700" stop-color="#3c508b"/><stop offset="0.800" stop-color="#39558c"/><stop offset="0.900" stop-color="#375a8c"/><stop offset="1.000" stop-color="#355f8d"/></linearGradient><linearGradient id="c33"><stop offset="0.000" stop-color="#481a6c"/><stop offset="0.015" stop-color="#481b6d"/><stop offset="0.030" stop-color="#481c6e"/><stop offset="0.050" stop-color="#481d6f"/><stop offset="0.080" stop-color="#481f70"/><stop offset="0.110" stop-color="#482173"/><stop offset="0.150" stop-color="#482576"/><stop offset="0.200" stop-color="#472a7a"/><stop offset="0.250" stop-color="#472f7d"/><stop offset="0.320" stop-color="#453581"/><stop offset="0.400" stop-color="#443b84"/><stop offset="0.500" stop-color="#414287"/><stop offset="0.600" stop-color="#3e4a89"/><stop offset="0.700" stop-color="#3b528b"/><stop offset="0.800" stop-color="#38598c"/><stop offset="0.900" stop-color="#355e8d"/><stop offset="1.000" stop-color="#33628d"/></linearGradient><linearGradient id="c34"><stop offset="0.000" stop-color="#481b6d"/><stop offset="0.015" stop-color="#481b6d"/><stop offset="0.030" stop-color="#481c6e"/><stop offset="0.050" stop-color="#481d6f"/><stop offset="0.080" stop-color="#482071"/><stop offset="0.110" stop-color="#482374"/><stop offset="0.150" stop-color="#482677"/><stop offset="0.200" stop-color="#472a7a"/><stop offset="0.250" stop-color="#472f7d"/><stop offset="0.320" stop-color="#453581"/><stop offset="0.400" stop-color="#433d84"/><stop offset="0.500" stop-color="#414487"/><stop offset="0.600" stop-color="#3e4c8a"/><stop offset="0.700" stop-color="#3a548c"/><stop offset="0.800" stop-color="#375b8d"/><stop offset="0.900" stop-color="#34608d"/><stop offset="1.000" stop-color="#32658e"/></linearGradient><linearGradient id="c35"><stop offset="0.000" stop-color="#481b6d"/><stop offset="0.015" stop-color="#481c6e"/><stop offset="0.030" stop-color="#481d6f"/><stop offset="0.050" stop-color="#481f70"/><stop offset="0.080" stop-color="#482071"/><stop offset="0.110" stop-color="#482374"/><stop offset="0.150" stop-color="#482677"/><stop offset="0.200" stop-color="#472c7a"/><stop offset="0.250" stop-color="#46307e"/><stop offset="0.320" stop-color="#453781"/><stop offset="0.400" stop-color="#433d84"/><stop offset="0.500" stop-color="#404588"/><stop offset="0.600" stop-color="#3d4e8a"/><stop offset="0.700" stop-color="#39568c"/><stop offset="0.800" stop-color="#365d8d"/><stop offset="0.900" stop-color="#33638d"/><stop offset="1.000" stop-color="#31688e"/></linearGradient><linearGradient id="c36"><stop offset="0.000" stop-color="#481c6e"/><stop offset="0.015" stop-color="#481c6e"/><stop offset="0.030" stop-color="#481d6f"/><stop offset="0.050" stop-color="#481f70"/><stop offset="0.080" stop-color="#482173"/><stop offset="0.110" stop-color="#482475"/><stop offset="0.150" stop-color="#482878"/><stop offset="0.200" stop-color="#472c7a"/><stop offset="0.250" stop-color="#46307e"/><stop offset="0.320" stop-color="#453882"/><stop offset="0.400" stop-color="#433e85"/><stop offset="0.500" stop-color="#404688"/><stop offset="0.600" stop-color="#3c4f8a"/><stop offset="0.700" stop-color="#38598c"/><stop offset="0.800" stop-color="#34608d"/><stop offset="0.900" stop-color="#32658e"/><stop offset="1.000" stop-color="#2f6b8e"/></linearGradient><linearGradient id="c37"><stop offset="0.000" stop-color="#481c6e"/><stop offset="0.015" stop-color="#481d6f"/><stop offset="0.030" stop-color="#481f70"/><stop offset="0.050" stop-color="#482071"/><stop offset="0.080" stop-color="#482173"/><stop offset="0.110" stop-color="#482475"/><stop offset="0.150" stop-color="#482878"/><stop offset="0.200" stop-color="#472d7b"/><stop offset="0.250" stop-color="#46327e"/><stop offset="0.320" stop-color="#453882"/><stop offset="0.400" stop-color="#423f85"/><stop offset="0.500" stop-color="#3f4788"/><stop offset="0.600" stop-color="#3b518b"/><stop offset="0.700" stop-color="#375a8c"/><stop offset="0.800" stop-color="#33628d"/><stop offset="0.900" stop-color="#31678e"/><stop offset="1.000" stop-color="#2e6d8e"/></linearGradient><linearGradient id="c38"><stop offset="0.000" stop-color="#481d6f"/><stop offset="0.015" stop-color="#481f70"/><stop offset="0.030" stop-color="#481f70"/><stop offset="0.050" stop-color="#482071"/><stop offset="0.080" stop-color="#482374"/><stop offset="0.110" stop-color="#482576"/><stop offset="0.150" stop-color="#482979"/><stop offset="0.200" stop-color="#472e7c"/><stop offset="0.250" stop-color="#46327e"/><stop offset="0.320" stop-color="#443983"/><stop offset="0.400" stop-color="#424086"/><stop offset="0.500" stop-color="#3f4889"/><stop offset="0.600" stop-color="#3b528b"/><stop offset="0.700" stop-color="#365c8d"/><stop offset="0.800" stop-color="#32648e"/><stop offset="0.900" stop-color="#306a8e"/><stop offset="1.000" stop-color="#2d708e"/></linearGradient><linearGradient id="c39"><stop offset="0.000" stop-color="#481d6f"/><stop offset="0.015" stop-color="#481f70"/><stop offset="0.030" stop-color="#482071"/><stop offset="0.050" stop-color="#482173"/><stop offset="0.080" stop-color="#482374"/><stop offset="0.110" stop-color="#482576"/><stop offset="0.150" stop-color="#482979"/><stop offset="0.200" stop-color="#472e7c"/><stop offset="0.250" stop-color="#46337f"/><stop offset="0.320" stop-color="#443983"/><stop offset="0.400" stop-color="#424086"/><stop offset="0.500" stop-color="#3e4989"/><stop offset="0.600" stop-color="#3a548c"/><stop offset="0.700" stop-color="#355e8d"/><stop offset="0.800" stop-color="#31668e"/><stop offset="0.900" stop-color="#2f6c8e"/><stop offset="1.000" stop-color="#2c718e"/></linearGradient><linearGradient id="c40"><stop offset="0.000" stop-color="#481f70"/><stop offset="0.015" stop-color="#482071"/><stop offset="0.030" stop-color="#482071"/><stop offset="0.050" stop-color="#482173"/><stop offset="0.080" stop-color="#482475"/><stop offset="0.110" stop-color="#482677"/><stop offset="0.150" stop-color="#472a7a"/><stop offset="0.200" stop-color="#472f7d"/><stop offset="0.250" stop-color="#463480"/><stop offset="0.320" stop-color="#443a83"/><stop offset="0.400" stop-color="#424186"/><stop offset="0.500" stop-color="#3e4a89"/><stop offset="0.600" stop-color="#3a548c"/><stop offset="0.700" stop-color="#355f8d"/><stop offset="0.800" stop-color="#31678e"/><stop offset="0.900" stop-color="#2e6d8e"/><stop offset="1.000" stop-color="#2c738e"/></linearGradient><linearGradient id="c41"><stop offset="0.000" stop-color="#481f70"/><stop offset="0.015" stop-color="#482071"/><stop offset="0.030" stop-color="#482173"/><stop offset="0.050" stop-color="#482374"/><stop offset="0.080" stop-color="#482576"/><stop offset="0.110" stop-color="#482677"/><stop offset="0.150" stop-color="#472a7a"/><stop offset="0.200" stop-color="#472f7d"/><stop offset="0.250" stop-color="#463480"/><stop offset="0.320" stop-color="#443a83"/><stop offset="0.400" stop-color="#414287"/><stop offset="0.500" stop-color="#3e4a89"/><stop offset="0.600" stop-color="#39558c"/><stop offset="0.700" stop-color="#34608d"/><stop offset="0.800" stop-color="#31688e"/><stop offset="0.900" stop-color="#2e6f8e"/><stop offset="1.000" stop-color="#2b758e"/></linearGradient><linearGradient id="c42"><stop offset="0.000" stop-color="#482071"/><stop offset="0.015" stop-color="#482173"/><stop offset="0.030" stop-color="#482173"/><stop offset="0.050" stop-color="#482475"/><stop offset="0.080" stop-color="#482576"/><stop offset="0.110" stop-color="#482878"/><stop offset="0.150" stop-color="#472c7a"/><stop offset="0.200" stop-color="#46307e"/><stop offset="0.250" stop-color="#453581"/><stop offset="0.320" stop-color="#443b84"/><stop offset="0.400" stop-color="#414287"/><stop offset="0.500" stop-color="#3e4c8a"/><stop offset="0.600" stop-color="#39568c"/><stop offset="0.700" stop-color="#34618d"/><stop offset="0.800" stop-color="#30698e"/><stop offset="0.900" stop-color="#2d708e"/><stop offset="1.000" stop-color="#2a768e"/></linearGradient><linearGradient id="c43"><stop offset="0.000" stop-color="#482071"/><stop offset="0.015" stop-color="#482173"/><stop offset="0.030" stop-color="#482374"/><stop offset="0.050" stop-color="#482475"/><stop offset="0.080" stop-color="#482677"/><stop offset="0.110" stop-color="#482878"/><stop offset="0.150" stop-color="#472c7a"/><stop offset="0.200" stop-color="#46307e"/><stop offset="0.250" stop-color="#453581"/><stop offset="0.320" stop-color="#443b84"/><stop offset="0.400" stop-color="#414487"/><stop offset="0.500" stop-color="#3e4c8a"/><stop offset="0.600" stop-color="#38588c"/><stop offset="0.700" stop-color="#33628d"/><stop offset="0.800" stop-color="#306a8e"/><stop offset="0.900" stop-color="#2c718e"/><stop offset="1.000" stop-color="#2a788e"/></linearGradient><linearGradient id="c44"><stop offset="0.000" stop-color="#482173"/><stop offset="0.015" stop-color="#482173"/><stop offset="0.030" stop-color="#482374"/><stop offset="0.050" stop-color="#482475"/><stop offset="0.080" stop-color="#482677"/><stop offset="0.110" stop-color="#482878"/><stop offset="0.150" stop-color="#472d7b"/><stop offset="0.200" stop-color="#46307e"/><stop offset="0.250" stop-color="#453581"/><stop offset="0.320" stop-color="#443b84"/><stop offset="0.400" stop-color="#414287"/><stop offset="0.500" stop-color="#3e4c8a"/><stop offset="0.600" stop-color="#39568c"/><stop offset="0.700" stop-color="#34618d"/><stop offset="0.800" stop-color="#306a8e"/><stop offset="0.900" stop-color="#2d718e"/><stop offset="1.000" stop-color="#2a778e"/></linearGradient><linearGradient id="c45"><stop offset="0.000" stop-color="#482173"/><stop offset="0.015" stop-color="#482173"/><stop offset="0.030" stop-color="#482374"/><stop offset="0.050" stop-color="#482475"/><stop offset="0.080" stop-color="#482677"/><stop offset="0.110" stop-color="#482878"/><stop offset="0.150" stop-color="#472d7b"/><stop offset="0.200" stop-color="#46307e"/><stop offset="0.250" stop-color="#453581"/><stop offset="0.320" stop-color="#443b84"/><stop offset="0.400" stop-color="#414287"/><stop offset="0.500" stop-color="#3e4a89"/><stop offset="0.600" stop-color="#39558c"/><stop offset="0.700" stop-color="#34618d"/><stop offset="0.800" stop-color="#30698e"/><stop offset="0.900" stop-color="#2d708e"/><stop offset="1.000" stop-color="#2b758e"/></linearGradient><linearGradient id="c46"><stop offset="0.000" stop-color="#482173"/><stop offset="0.015" stop-color="#482173"/><stop offset="0.030" stop-color="#482374"/><stop offset="0.050" stop-color="#482475"/><stop offset="0.080" stop-color="#482677"/><stop offset="0.110" stop-color="#482878"/><stop offset="0.150" stop-color="#472c7a"/><stop offset="0.200" stop-color="#46307e"/><stop offset="0.250" stop-color="#453581"/><stop offset="0.320" stop-color="#443b84"/><stop offset="0.400" stop-color="#414287"/><stop offset="0.500" stop-color="#3e4989"/><stop offset="0.600" stop-color="#39558c"/><stop offset="0.700" stop-color="#34608d"/><stop offset="0.800" stop-color="#31688e"/><stop offset="0.900" stop-color="#2e6f8e"/><stop offset="1.000" stop-color="#2b748e"/></linearGradient><linearGradient id="c47"><stop offset="0.000" stop-color="#482173"/><stop offset="0.015" stop-color="#482173"/><stop offset="0.030" stop-color="#482374"/><stop offset="0.050" stop-color="#482475"/><stop offset="0.080" stop-color="#482677"/><stop offset="0.110" stop-color="#482878"/><stop offset="0.150" stop-color="#472c7a"/><stop offset="0.200" stop-color="#46307e"/><stop offset="0.250" stop-color="#453581"/><stop offset="0.320" stop-color="#443b84"/><stop offset="0.400" stop-color="#424186"/><stop offset="0.500" stop-color="#3e4989"/><stop offset="0.600" stop-color="#3a548c"/><stop offset="0.700" stop-color="#355f8d"/><stop offset="0.800" stop-color="#31688e"/><stop offset="0.900" stop-color="#2e6e8e"/><stop offset="1.000" stop-color="#2c738e"/></linearGradient><linearGradient id="c48"><stop offset="0.000" stop-color="#482173"/><stop offset="0.015" stop-color="#482374"/><stop offset="0.030" stop-color="#482475"/><stop offset="0.050" stop-color="#482576"/><stop offset="0.080" stop-color="#482677"/><stop offset="0.110" stop-color="#482979"/><stop offset="0.150" stop-color="#472d7b"/><stop offset="0.200" stop-color="#46327e"/><stop offset="0.250" stop-color="#453781"/><stop offset="0.320" stop-color="#433d84"/><stop offset="0.400" stop-color="#414287"/><stop offset="0.500" stop-color="#3e4989"/><stop offset="0.600" stop-color="#3a538b"/><stop offset="0.700" stop-color="#365c8d"/><stop offset="0.800" stop-color="#33638d"/><stop offset="0.900" stop-color="#30698e"/><stop offset="1.000" stop-color="#2e6e8e"/></linearGradient><linearGradient id="c49"><stop offset="0.000" stop-color="#482374"/><stop offset="0.015" stop-color="#482475"/><stop offset="0.030" stop-color="#482576"/><stop offset="0.050" stop-color="#482677"/><stop offset="0.080" stop-color="#482878"/><stop offset="0.110" stop-color="#472a7a"/><stop offset="0.150" stop-color="#472e7c"/><stop offset="0.200" stop-color="#46337f"/><stop offset="0.250" stop-color="#453882"/><stop offset="0.320" stop-color="#433e85"/><stop offset="0.400" stop-color="#414287"/><stop offset="0.500" stop-color="#3e4989"/><stop offset="0.600" stop-color="#3b518b"/><stop offset="0.700" stop-color="#38598c"/><stop offset="0.800" stop-color="#355f8d"/><stop offset="0.900" stop-color="#32648e"/><stop offset="1.000" stop-color="#31688e"/></linearGradient><linearGradient id="c50"><stop offset="0.000" stop-color="#482475"/><stop offset="0.015" stop-color="#482576"/><stop offset="0.030" stop-color="#482576"/><stop offset="0.050" stop-color="#482677"/><stop offset="0.080" stop-color="#482979"/><stop offset="0.110" stop-color="#472c7a"/><stop offset="0.150" stop-color="#472f7d"/><stop offset="0.200" stop-color="#463480"/><stop offset="0.250" stop-color="#453882"/><stop offset="0.320" stop-color="#433e85"/><stop offset="0.400" stop-color="#414487"/><stop offset="0.500" stop-color="#3e4989"/><stop offset="0.600" stop-color="#3c508b"/><stop offset="0.700" stop-color="#39558c"/><stop offset="0.800" stop-color="#375b8d"/><stop offset="0.900" stop-color="#355f8d"/><stop offset="1.000" stop-color="#33628d"/></linearGradient><linearGradient id="c51"><stop offset="0.000" stop-color="#482576"/><stop offset="0.015" stop-color="#482576"/><stop offset="0.030" stop-color="#482677"/><stop offset="0.050" stop-color="#482878"/><stop offset="0.080" stop-color="#472a7a"/><stop offset="0.110" stop-color="#472d7b"/><stop offset="0.150" stop-color="#46307e"/><stop offset="0.200" stop-color="#453581"/><stop offset="0.250" stop-color="#443a83"/><stop offset="0.320" stop-color="#424086"/><stop offset="0.400" stop-color="#404688"/><stop offset="0.500" stop-color="#3d4d8a"/><stop offset="0.600" stop-color="#3b528b"/><stop offset="0.700" stop-color="#38598c"/><stop offset="0.800" stop-color="#365d8d"/><stop offset="0.900" stop-color="#34618d"/><stop offset="1.000" stop-color="#32648e"/></linearGradient><linearGradient id="c52"><stop offset="0.000" stop-color="#482677"/><stop offset="0.015" stop-color="#482878"/><stop offset="0.030" stop-color="#482878"/><stop offset="0.050" stop-color="#482979"/><stop offset="0.080" stop-color="#472c7a"/><stop offset="0.110" stop-color="#472e7c"/><stop offset="0.150" stop-color="#46327e"/><stop offset="0.200" stop-color="#453781"/><stop offset="0.250" stop-color="#443b84"/><stop offset="0.320" stop-color="#414487"/><stop offset="0.400" stop-color="#3e4a89"/><stop offset="0.500" stop-color="#3b528b"/><stop offset="0.600" stop-color="#38598c"/><stop offset="0.700" stop-color="#355f8d"/><stop offset="0.800" stop-color="#32648e"/><stop offset="0.900" stop-color="#30698e"/><stop offset="1.000" stop-color="#2e6d8e"/></linearGradient><linearGradient id="c53"><stop offset="0.000" stop-color="#472a7a"/><stop offset="0.015" stop-color="#472c7a"/><stop offset="0.030" stop-color="#472d7b"/><stop offset="0.050" stop-color="#472e7c"/><stop offset="0.080" stop-color="#472f7d"/><stop offset="0.110" stop-color="#46327e"/><stop offset="0.150" stop-color="#453581"/><stop offset="0.200" stop-color="#443a83"/><stop offset="0.250" stop-color="#424186"/><stop offset="0.320" stop-color="#3e4989"/><stop offset="0.400" stop-color="#3b518b"/><stop offset="0.500" stop-color="#375b8d"/><stop offset="0.600" stop-color="#34618d"/><stop offset="0.700" stop-color="#31688e"/><stop offset="0.800" stop-color="#2e6d8e"/><stop offset="0.900" stop-color="#2c718e"/><stop offset="1.000" stop-color="#2a768e"/></linearGradient><linearGradient id="c54"><stop offset="0.000" stop-color="#463480"/><stop offset="0.015" stop-color="#453581"/><stop offset="0.030" stop-color="#453781"/><stop offset="0.050" stop-color="#443983"/><stop offset="0.080" stop-color="#443b84"/><stop offset="0.110" stop-color="#423f85"/><stop offset="0.150" stop-color="#414287"/><stop offset="0.200" stop-color="#3f4889"/><stop offset="0.250" stop-color="#3d4e8a"/><stop offset="0.320" stop-color="#39568c"/><stop offset="0.400" stop-color="#355f8d"/><stop offset="0.500" stop-color="#30698e"/><stop offset="0.600" stop-color="#2e6f8e"/><stop offset="0.700" stop-color="#2b758e"/><stop offset="0.800" stop-color="#297a8e"/><stop offset="0.900" stop-color="#277f8e"/><stop offset="1.000" stop-color="#26828e"/></linearGradient><linearGradient id="c55"><stop offset="0.000" stop-color="#423f85"/><stop offset="0.015" stop-color="#424086"/><stop offset="0.030" stop-color="#424186"/><stop offset="0.050" stop-color="#414487"/><stop offset="0.080" stop-color="#3f4788"/><stop offset="0.110" stop-color="#3e4a89"/><stop offset="0.150" stop-color="#3c4f8a"/><stop offset="0.200" stop-color="#3a548c"/><stop offset="0.250" stop-color="#375b8d"/><stop offset="0.320" stop-color="#33638d"/><stop offset="0.400" stop-color="#2f6c8e"/><stop offset="0.500" stop-color="#2a768e"/><stop offset="0.600" stop-color="#287c8e"/><stop offset="0.700" stop-color="#26828e"/><stop offset="0.800" stop-color="#24878e"/><stop offset="0.900" stop-color="#228b8d"/><stop offset="1.000" stop-color="#218f8d"/></linearGradient><linearGradient id="c56"><stop offset="0.000" stop-color="#3d4e8a"/><stop offset="0.015" stop-color="#3c4f8a"/><stop offset="0.030" stop-color="#3b518b"/><stop offset="0.050" stop-color="#3a538b"/><stop offset="0.080" stop-color="#39568c"/><stop offset="0.110" stop-color="#375b8d"/><stop offset="0.150" stop-color="#355f8d"/><stop offset="0.200" stop-color="#32648e"/><stop offset="0.250" stop-color="#306a8e"/><stop offset="0.320" stop-color="#2c718e"/><stop offset="0.400" stop-color="#297a8e"/><stop offset="0.500" stop-color="#25848e"/><stop offset="0.600" stop-color="#238a8d"/><stop offset="0.700" stop-color="#21908d"/><stop offset="0.800" stop-color="#20938c"/><stop offset="0.900" stop-color="#1f978b"/><stop offset="1.000" stop-color="#1e9b8a"/></linearGradient><linearGradient id="c57"><stop offset="0.000" stop-color="#34608d"/><stop offset="0.015" stop-color="#33628d"/><stop offset="0.030" stop-color="#32648e"/><stop offset="0.050" stop-color="#31668e"/><stop offset="0.080" stop-color="#306a8e"/><stop offset="0.110" stop-color="#2e6e8e"/><stop offset="0.150" stop-color="#2c718e"/><stop offset="0.200" stop-color="#2a768e"/><stop offset="0.250" stop-color="#287c8e"/><stop offset="0.320" stop-color="#26828e"/><stop offset="0.400" stop-color="#238a8d"/><stop offset="0.500" stop-color="#20928c"/><stop offset="0.600" stop-color="#1f988b"/><stop offset="0.700" stop-color="#1e9d89"/><stop offset="0.800" stop-color="#1fa188"/><stop offset="0.900" stop-color="#20a386"/><stop offset="1.000" stop-color="#21a685"/></linearGradient><linearGradient id="c58"><stop offset="0.000" stop-color="#2d718e"/><stop offset="0.015" stop-color="#2c728e"/><stop offset="0.030" stop-color="#2b748e"/><stop offset="0.050" stop-color="#2a778e"/><stop offset="0.080" stop-color="#287c8e"/><stop offset="0.110" stop-color="#27808e"/><stop offset="0.150" stop-color="#25838e"/><stop offset="0.200" stop-color="#23888e"/><stop offset="0.250" stop-color="#228d8d"/><stop offset="0.320" stop-color="#20938c"/><stop offset="0.400" stop-color="#1f9a8a"/><stop offset="0.500" stop-color="#1fa187"/><stop offset="0.600" stop-color="#21a585"/><stop offset="0.700" stop-color="#24aa83"/><stop offset="0.800" stop-color="#26ad81"/><stop offset="0.900" stop-color="#29af7f"/><stop offset="1.000" stop-color="#2cb17e"/></linearGradient><linearGradient id="c59"><stop offset="0.000" stop-color="#26818e"/><stop offset="0.015" stop-color="#25838e"/><stop offset="0.030" stop-color="#25858e"/><stop offset="0.050" stop-color="#23888e"/><stop offset="0.080" stop-color="#228d8d"/><stop offset="0.110" stop-color="#21908d"/><stop offset="0.150" stop-color="#20938c"/><stop offset="0.200" stop-color="#1f988b"/><stop offset="0.250" stop-color="#1e9d89"/><stop offset="0.320" stop-color="#1fa287"/><stop offset="0.400" stop-color="#22a785"/><stop offset="0.500" stop-color="#27ad81"/><stop offset="0.600" stop-color="#2cb17e"/><stop offset="0.700" stop-color="#31b57b"/><stop offset="0.800" stop-color="#35b779"/><stop offset="0.900" stop-color="#38b977"/><stop offset="1.000" stop-color="#3bbb75"/></linearGradient><linearGradient id="c60"><stop offset="0.000" stop-color="#21918c"/><stop offset="0.015" stop-color="#20938c"/><stop offset="0.030" stop-color="#1f968b"/><stop offset="0.050" stop-color="#1f998a"/><stop offset="0.080" stop-color="#1e9d89"/><stop offset="0.110" stop-color="#1fa188"/><stop offset="0.150" stop-color="#20a386"/><stop offset="0.200" stop-color="#21a685"/><stop offset="0.250" stop-color="#24aa83"/><stop offset="0.320" stop-color="#28ae80"/><stop offset="0.400" stop-color="#2eb37c"/><stop offset="0.500" stop-color="#35b779"/><stop offset="0.600" stop-color="#3bbb75"/><stop offset="0.700" stop-color="#40bd72"/><stop offset="0.800" stop-color="#46c06f"/><stop offset="0.900" stop-color="#4ac16d"/><stop offset="1.000" stop-color="#4cc26c"/></linearGradient><linearGradient id="c61"><stop offset="0.000" stop-color="#1fa187"/><stop offset="0.015" stop-color="#20a486"/><stop offset="0.030" stop-color="#22a785"/><stop offset="0.050" stop-color="#24aa83"/><stop offset="0.080" stop-color="#27ad81"/><stop offset="0.110" stop-color="#2ab07f"/><stop offset="0.150" stop-color="#2db27d"/><stop offset="0.200" stop-color="#31b57b"/><stop offset="0.250" stop-color="#35b779"/><stop offset="0.320" stop-color="#3bbb75"/><stop offset="0.400" stop-color="#40bd72"/><stop offset="0.500" stop-color="#4ac16d"/><stop offset="0.600" stop-color="#50c46a"/><stop offset="0.700" stop-color="#56c667"/><stop offset="0.800" stop-color="#5ac864"/><stop offset="0.900" stop-color="#5cc863"/><stop offset="1.000" stop-color="#60ca60"/></linearGradient><linearGradient id="c62"><stop offset="0.000" stop-color="#23a983"/><stop offset="0.015" stop-color="#25ac82"/><stop offset="0.030" stop-color="#28ae80"/><stop offset="0.050" stop-color="#2db27d"/><stop offset="0.080" stop-color="#31b57b"/><stop offset="0.110" stop-color="#35b779"/><stop offset="0.150" stop-color="#38b977"/><stop offset="0.200" stop-color="#3bbb75"/><stop offset="0.250" stop-color="#3fbc73"/><stop offset="0.320" stop-color="#44bf70"/><stop offset="0.400" stop-color="#4ac16d"/><stop offset="0.500" stop-color="#50c46a"/><stop offset="0.600" stop-color="#56c667"/><stop offset="0.700" stop-color="#5cc863"/><stop offset="0.800" stop-color="#5ec962"/><stop offset="0.900" stop-color="#60ca60"/><stop offset="1.000" stop-color="#63cb5f"/></linearGradient><linearGradient id="c63"><stop offset="0.000" stop-color="#25ab82"/><stop offset="0.015" stop-color="#27ad81"/><stop offset="0.030" stop-color="#2ab07f"/><stop offset="0.050" stop-color="#2fb47c"/><stop offset="0.080" stop-color="#34b679"/><stop offset="0.110" stop-color="#38b977"/><stop offset="0.150" stop-color="#3aba76"/><stop offset="0.200" stop-color="#3dbc74"/><stop offset="0.250" stop-color="#40bd72"/><stop offset="0.320" stop-color="#44bf70"/><stop offset="0.400" stop-color="#48c16e"/><stop offset="0.500" stop-color="#4cc26c"/><stop offset="0.600" stop-color="#50c46a"/><stop offset="0.700" stop-color="#54c568"/><stop offset="0.800" stop-color="#56c667"/><stop offset="0.900" stop-color="#58c765"/><stop offset="1.000" stop-color="#58c765"/></linearGradient><linearGradient id="c64"><stop offset="0.000" stop-color="#26ad81"/><stop offset="0.015" stop-color="#29af7f"/><stop offset="0.030" stop-color="#2db27d"/><stop offset="0.050" stop-color="#32b67a"/><stop offset="0.080" stop-color="#37b878"/><stop offset="0.110" stop-color="#3bbb75"/><stop offset="0.150" stop-color="#3dbc74"/><stop offset="0.200" stop-color="#3fbc73"/><stop offset="0.250" stop-color="#40bd72"/><stop offset="0.320" stop-color="#44bf70"/><stop offset="0.400" stop-color="#46c06f"/><stop offset="0.500" stop-color="#4ac16d"/><stop offset="0.600" stop-color="#4cc26c"/><stop offset="0.700" stop-color="#4ec36b"/><stop offset="0.800" stop-color="#50c46a"/><stop offset="0.900" stop-color="#50c46a"/><stop offset="1.000" stop-color="#50c46a"/></linearGradient><linearGradient id="c65"><stop offset="0.000" stop-color="#1fa188"/><stop offset="0.015" stop-color="#20a386"/><stop offset="0.030" stop-color="#21a585"/><stop offset="0.050" stop-color="#23a983"/><stop offset="0.080" stop-color="#25ac82"/><stop offset="0.110" stop-color="#27ad81"/><stop offset="0.150" stop-color="#28ae80"/><stop offset="0.200" stop-color="#29af7f"/><stop offset="0.250" stop-color="#2cb17e"/><stop offset="0.320" stop-color="#2db27d"/><stop offset="0.400" stop-color="#2eb37c"/><stop offset="0.500" stop-color="#31b57b"/><stop offset="0.600" stop-color="#32b67a"/><stop offset="0.700" stop-color="#34b679"/><stop offset="0.800" stop-color="#34b679"/><stop offset="0.900" stop-color="#34b679"/><stop offset="1.000" stop-color="#34b679"/></linearGradient><linearGradient id="c66"><stop offset="0.000" stop-color="#20928c"/><stop offset="0.015" stop-color="#1f948c"/><stop offset="0.030" stop-color="#1f958b"/><stop offset="0.050" stop-color="#1f988b"/><stop offset="0.080" stop-color="#1e9b8a"/><stop offset="0.110" stop-color="#1e9d89"/><stop offset="0.150" stop-color="#1f9e89"/><stop offset="0.200" stop-color="#1fa088"/><stop offset="0.250" stop-color="#1fa188"/><stop offset="0.320" stop-color="#1fa187"/><stop offset="0.400" stop-color="#1fa287"/><stop offset="0.500" stop-color="#20a486"/><stop offset="0.600" stop-color="#21a585"/><stop offset="0.700" stop-color="#21a685"/><stop offset="0.800" stop-color="#21a685"/><stop offset="0.900" stop-color="#21a685"/><stop offset="1.000" stop-color="#21a685"/></linearGradient><linearGradient id="c67"><stop offset="0.000" stop-color="#27808e"/><stop offset="0.015" stop-color="#26828e"/><stop offset="0.030" stop-color="#26828e"/><stop offset="0.050" stop-color="#25848e"/><stop offset="0.080" stop-color="#24878e"/><stop offset="0.110" stop-color="#23898e"/><stop offset="0.150" stop-color="#238a8d"/><stop offset="0.200" stop-color="#228b8d"/><stop offset="0.250" stop-color="#228c8d"/><stop offset="0.320" stop-color="#218e8d"/><stop offset="0.400" stop-color="#218f8d"/><stop offset="0.500" stop-color="#21908d"/><stop offset="0.600" stop-color="#21918c"/><stop offset="0.700" stop-color="#20928c"/><stop offset="0.800" stop-color="#20928c"/><stop offset="0.900" stop-color="#20928c"/><stop offset="1.000" stop-color="#20928c"/></linearGradient><linearGradient id="c68"><stop offset="0.000" stop-color="#2f6b8e"/><stop offset="0.015" stop-color="#2f6c8e"/><stop offset="0.030" stop-color="#2e6d8e"/><stop offset="0.050" stop-color="#2e6e8e"/><stop offset="0.080" stop-color="#2d708e"/><stop offset="0.110" stop-color="#2c718e"/><stop offset="0.150" stop-color="#2c728e"/><stop offset="0.200" stop-color="#2c738e"/><stop offset="0.250" stop-color="#2b748e"/><stop offset="0.320" stop-color="#2a768e"/><stop offset="0.400" stop-color="#2a778e"/><stop offset="0.500" stop-color="#2a788e"/><stop offset="0.600" stop-color="#2a788e"/><stop offset="0.700" stop-color="#29798e"/><stop offset="0.800" stop-color="#29798e"/><stop offset="0.900" stop-color="#29798e"/><stop offset="1.000" stop-color="#29798e"/></linearGradient><linearGradient id="c69"><stop offset="0.000" stop-color="#3b528b"/><stop offset="0.015" stop-color="#3b528b"/><stop offset="0.030" stop-color="#3a538b"/><stop offset="0.050" stop-color="#3a548c"/><stop offset="0.080" stop-color="#39558c"/><stop offset="0.110" stop-color="#39558c"/><stop offset="0.150" stop-color="#39568c"/><stop offset="0.200" stop-color="#38588c"/><stop offset="0.250" stop-color="#38598c"/><stop offset="0.320" stop-color="#375a8c"/><stop offset="0.400" stop-color="#375b8d"/><stop offset="0.500" stop-color="#375b8d"/><stop offset="0.600" stop-color="#375b8d"/><stop offset="0.700" stop-color="#375b8d"/><stop offset="0.800" stop-color="#375b8d"/><stop offset="0.900" stop-color="#375b8d"/><stop offset="1.000" stop-color="#375b8d"/></linearGradient><linearGradient id="c70"><stop offset="0.000" stop-color="#453781"/><stop offset="0.015" stop-color="#453781"/><stop offset="0.030" stop-color="#453781"/><stop offset="0.050" stop-color="#453781"/><stop offset="0.080" stop-color="#453781"/><stop offset="0.110" stop-color="#453781"/><stop offset="0.150" stop-color="#453781"/><stop offset="0.200" stop-color="#453781"/><stop offset="0.250" stop-color="#453781"/><stop offset="0.320" stop-color="#453781"/><stop offset="0.400" stop-color="#453781"/><stop offset="0.500" stop-color="#453781"/><stop offset="0.600" stop-color="#453781"/><stop offset="0.700" stop-color="#453781"/><stop offset="0.800" stop-color="#453781"/><stop offset="0.900" stop-color="#453781"/><stop offset="1.000" stop-color="#453781"/></linearGradient><linearGradient id="vh"><stop offset="0.0000" stop-color="#440154"/><stop offset="0.0625" stop-color="#48186a"/><stop offset="0.1250" stop-color="#472d7b"/><stop offset="0.1875" stop-color="#424086"/><stop offset="0.2500" stop-color="#3b528b"/><stop offset="0.3125" stop-color="#33638d"/><stop offset="0.3750" stop-color="#2c728e"/><stop offset="0.4375" stop-color="#26828e"/><stop offset="0.5000" stop-color="#21918c"/><stop offset="0.5625" stop-color="#1fa088"/><stop offset="0.6250" stop-color="#28ae80"/><stop offset="0.6875" stop-color="#3fbc73"/><stop offset="0.7500" stop-color="#5ec962"/><stop offset="0.8125" stop-color="#84d44b"/><stop offset="0.8750" stop-color="#addc30"/><stop offset="0.9375" stop-color="#d8e219"/><stop offset="1.0000" stop-color="#fde725"/></linearGradient></defs>
<polygon points="56.1,-2 152.8,20.0 152.8,307.2 56.6,319.6" fill="#f9f9f9"/>
<polygon points="152.8,19.8 375.8,13.4 375.8,311.6 152.8,307.2" fill="#f2f2f2"/>
<polygon points="56.6,319.6 152.8,307.2 375.8,311.6 308.2,325.6 56.8,320.7" fill="#f3f3f3"/>
<path d="M58.9,10.9V319.3M72.8,10.9V317.5M85.9,10.9V315.8M98.6,10.9V314.2M110.6,11.5V312.6M122.6,13.9V311.1M134.6,16.3V309.5M145.9,18.6V308.1M56.6,46.8L152.8,61.2M56.6,101.4L152.8,110.8M56.6,156.5L152.8,160.5M56.6,211.9L152.8,210.8M56.6,267.4L152.8,260.5M152.8,61.2L375.8,56.5M152.8,110.8L375.8,107.8M152.8,160.5L375.8,160.0M152.8,210.8L375.8,211.2M152.8,260.5L375.8,262.0M179.9,19.0V307.7M210.4,18.1V308.3M240.7,17.3V308.9M271.5,16.4V309.5M302.5,15.5V310.2M334.1,14.6V310.8M365.5,13.7V311.4M58.9,319.3L309.5,325.3M72.8,317.5L319.3,323.3M85.9,315.8L328.6,321.4M98.6,314.2L337.6,319.5M110.6,312.6L346.0,317.8M122.6,311.1L354.5,316.0M134.6,309.5L363.0,314.3M145.9,308.1L370.9,312.6M179.9,307.7L84.4,321.2M210.4,308.3L117.4,321.9M240.7,308.9L150.8,322.5M271.5,309.5L184.8,323.2M302.5,310.2L219.0,323.9M334.1,310.8L253.6,324.5M365.5,311.4L288.7,325.2" stroke="#b2b2b2" stroke-width="1.15" fill="none"/>
<path d="M56.8,320.7L308.2,325.6L375.8,311.6" stroke="#000" stroke-width="1.3" fill="none"/>
<path d="M376.6,13V311.8" stroke="#000" stroke-width="1.2" fill="none"/>
<path d="M373.8,56.5H381.5" stroke="#000" stroke-width="1"/>
<text x="387" y="65.7" font-family='"Liberation Sans", sans-serif' font-size="12.3">60</text>
<path d="M373.8,107.8H381.5" stroke="#000" stroke-width="1"/>
<text x="387" y="117.0" font-family='"Liberation Sans", sans-serif' font-size="12.3">50</text>
<path d="M373.8,160.0H381.5" stroke="#000" stroke-width="1"/>
<text x="387" y="169.2" font-family='"Liberation Sans", sans-serif' font-size="12.3">40</text>
<path d="M373.8,211.2H381.5" stroke="#000" stroke-width="1"/>
<text x="387" y="220.4" font-family='"Liberation Sans", sans-serif' font-size="12.3">30</text>
<path d="M373.8,262.0H381.5" stroke="#000" stroke-width="1"/>
<text x="387" y="271.2" font-family='"Liberation Sans", sans-serif' font-size="12.3">20</text>
<text x="84.4" y="337.8" text-anchor="middle" font-family='"Liberation Sans", sans-serif' font-size="12.3" letter-spacing="0.6">300</text>
<text x="117.4" y="338.5" text-anchor="middle" font-family='"Liberation Sans", sans-serif' font-size="12.3" letter-spacing="0.6">250</text>
<text x="150.8" y="339.1" text-anchor="middle" font-family='"Liberation Sans", sans-serif' font-size="12.3" letter-spacing="0.6">200</text>
<text x="184.8" y="339.8" text-anchor="middle" font-family='"Liberation Sans", sans-serif' font-size="12.3" letter-spacing="0.6">150</text>
<text x="219.0" y="340.5" text-anchor="middle" font-family='"Liberation Sans", sans-serif' font-size="12.3" letter-spacing="0.6">100</text>
<text x="253.6" y="341.1" text-anchor="middle" font-family='"Liberation Sans", sans-serif' font-size="12.3" letter-spacing="0.6">50</text>
<text x="288.7" y="341.8" text-anchor="middle" font-family='"Liberation Sans", sans-serif' font-size="12.3" letter-spacing="0.6">0</text>
<text x="309.6" y="341.9" text-anchor="middle" font-family='"Liberation Sans", sans-serif' font-size="12.3">9</text>
<text x="320.1" y="340.1" text-anchor="middle" font-family='"Liberation Sans", sans-serif' font-size="12.3">8</text>
<text x="330.7" y="338.0" text-anchor="middle" font-family='"Liberation Sans", sans-serif' font-size="12.3">7</text>
<text x="340" y="336.2" text-anchor="middle" font-family='"Liberation Sans", sans-serif' font-size="12.3">6</text>
<text x="348.7" y="334.3" text-anchor="middle" font-family='"Liberation Sans", sans-serif' font-size="12.3">5</text>
<text x="357.8" y="332.2" text-anchor="middle" font-family='"Liberation Sans", sans-serif' font-size="12.3">4</text>
<text x="366.6" y="330.8" text-anchor="middle" font-family='"Liberation Sans", sans-serif' font-size="12.3">3</text>
<text x="375.3" y="328.7" text-anchor="middle" font-family='"Liberation Sans", sans-serif' font-size="12.3">2</text>
<text transform="translate(117.3,354.2) rotate(1.2)" font-family='"Liberation Serif", serif' font-size="13">Atomic Number (Z)</text>
<text transform="translate(316,358.3) rotate(-12)" font-family='"Liberation Serif", serif' font-size="13.2">Density <tspan font-family='"Liberation Sans", sans-serif' font-size="14" letter-spacing="0.45">(g/cm<tspan dy="-5.5" font-size="10">3</tspan><tspan dy="5.5">)</tspan></tspan></text>
<text transform="translate(415,246) rotate(-90)" font-family='"Liberation Serif", serif' font-size="13.1">Predicted Responsivity (A/W)</text>
<rect x="41.6" y="24.6" width="10.1" height="281.7" fill="url(#vv)" stroke="#000" stroke-width="1"/>
<path d="M41.6,305.7H46.5" stroke="#000" stroke-width="1"/>
<text x="35.9" y="311.0" text-anchor="end" font-family='"Liberation Sans", sans-serif' font-size="12.3">0.0</text>
<path d="M41.6,272.6H46.5" stroke="#000" stroke-width="1"/>
<text x="35.9" y="277.9" text-anchor="end" font-family='"Liberation Sans", sans-serif' font-size="12.3">0.5</text>
<path d="M41.6,239.5H46.5" stroke="#000" stroke-width="1"/>
<text x="35.9" y="244.8" text-anchor="end" font-family='"Liberation Sans", sans-serif' font-size="12.3">1.0</text>
<path d="M41.6,206.4H46.5" stroke="#000" stroke-width="1"/>
<text x="35.9" y="211.7" text-anchor="end" font-family='"Liberation Sans", sans-serif' font-size="12.3">1.5</text>
<path d="M41.6,173.3H46.5" stroke="#000" stroke-width="1"/>
<text x="35.9" y="178.6" text-anchor="end" font-family='"Liberation Sans", sans-serif' font-size="12.3">2.0</text>
<path d="M41.6,140.2H46.5" stroke="#000" stroke-width="1"/>
<text x="35.9" y="145.5" text-anchor="end" font-family='"Liberation Sans", sans-serif' font-size="12.3">2.5</text>
<path d="M41.6,107.1H46.5" stroke="#000" stroke-width="1"/>
<text x="35.9" y="112.4" text-anchor="end" font-family='"Liberation Sans", sans-serif' font-size="12.3">3.0</text>
<path d="M41.6,74.0H46.5" stroke="#000" stroke-width="1"/>
<text x="35.9" y="79.3" text-anchor="end" font-family='"Liberation Sans", sans-serif' font-size="12.3">3.5</text>
<path d="M41.6,40.9H46.5" stroke="#000" stroke-width="1"/>
<text x="35.9" y="46.2" text-anchor="end" font-family='"Liberation Sans", sans-serif' font-size="12.3">4.0</text>
<text transform="translate(9.8,164.8) rotate(-90)" text-anchor="middle" font-family='"Liberation Serif", serif' font-size="13.4">Bandgap (eV)</text>
<text x="5.3" y="24.6" font-family='"Liberation Serif", serif' font-size="19.3">(a)</text>
<polygon points="294.80,60.90 296.08,64.84 300.22,64.84 296.87,67.27 298.15,71.21 294.80,68.78 291.45,71.21 292.73,67.27 289.38,64.84 293.52,64.84" fill="#58c765" stroke="#000" stroke-width="1.5" stroke-linejoin="round"/>
<circle cx="201.7" cy="179.6" r="5.50" fill="#1fa188" stroke="#000" stroke-width="1.5" stroke-linejoin="miter"/>
<circle cx="238.7" cy="186.3" r="5.50" fill="#355f8d" stroke="#000" stroke-width="1.5" stroke-linejoin="miter"/>
<rect x="281.30" y="180.80" width="11.00" height="11.00" fill="#375a8c" stroke="#000" stroke-width="1.5" stroke-linejoin="miter"/>
<rect x="192.80" y="193.90" width="11.00" height="11.00" fill="#2c738e" stroke="#000" stroke-width="1.5" stroke-linejoin="miter"/>
<circle cx="244.2" cy="199.1" r="5.50" fill="#32648e" stroke="#000" stroke-width="1.5" stroke-linejoin="miter"/>
<circle cx="174.8" cy="208.5" r="5.50" fill="#44bf70" stroke="#000" stroke-width="1.5" stroke-linejoin="miter"/>
<polygon points="156.80,207.70 158.08,211.64 162.22,211.64 158.87,214.07 160.15,218.01 156.80,215.58 153.45,218.01 154.73,214.07 151.38,211.64 155.52,211.64" fill="#306a8e" stroke="#000" stroke-width="1.5" stroke-linejoin="round"/>
<rect x="206.60" y="207.40" width="11.00" height="11.00" fill="#414487" stroke="#000" stroke-width="1.5" stroke-linejoin="miter"/>
<circle cx="269.7" cy="213.9" r="5.50" fill="#433e85" stroke="#000" stroke-width="1.5" stroke-linejoin="miter"/>
<polygon points="286.7,214.40 281.40,225.00 292.00,225.00" fill="#2a788e" stroke="#000" stroke-width="1.5" stroke-linejoin="round"/>
<circle cx="318.2" cy="227.7" r="5.50" fill="#29af7f" stroke="#000" stroke-width="1.5" stroke-linejoin="miter"/>
<circle cx="174.8" cy="224.2" r="5.50" fill="#33628d" stroke="#000" stroke-width="1.5" stroke-linejoin="miter"/>
<circle cx="193.9" cy="234.8" r="5.50" fill="#453781" stroke="#000" stroke-width="1.5" stroke-linejoin="miter"/>
<polygon points="172.1,252.10 166.80,241.50 177.40,241.50" fill="#2d718e" stroke="#000" stroke-width="1.5" stroke-linejoin="round"/>
<rect x="225.00" y="233.80" width="11.00" height="11.00" fill="#3fbc73" stroke="#000" stroke-width="1.5" stroke-linejoin="miter"/>
<rect x="243.70" y="238.00" width="11.00" height="11.00" fill="#433e85" stroke="#000" stroke-width="1.5" stroke-linejoin="miter"/>
<rect x="90.90" y="242.80" width="11.00" height="11.00" fill="#481769" stroke="#000" stroke-width="1.5" stroke-linejoin="miter"/>
<circle cx="239.7" cy="261.1" r="5.50" fill="#31678e" stroke="#000" stroke-width="1.5" stroke-linejoin="miter"/>
<circle cx="290.0" cy="255.2" r="5.50" fill="#3c4f8a" stroke="#000" stroke-width="1.5" stroke-linejoin="miter"/>
<circle cx="287.5" cy="261.6" r="5.50" fill="#482475" stroke="#000" stroke-width="1.5" stroke-linejoin="miter"/>
<rect x="298.30" y="264.50" width="11.00" height="11.00" fill="#fde725" stroke="#000" stroke-width="1.5" stroke-linejoin="miter"/>
<rect x="260.90" y="266.20" width="11.00" height="11.00" fill="#1f9f88" stroke="#000" stroke-width="1.5" stroke-linejoin="miter"/>
<polygon points="233.3,272.10 228.00,282.70 238.60,282.70" fill="#46085c" stroke="#000" stroke-width="1.5" stroke-linejoin="round"/>
<circle cx="290.8" cy="276.9" r="5.50" fill="#1f9f88" stroke="#000" stroke-width="1.5" stroke-linejoin="miter"/>
<rect x="270.10" y="275.20" width="11.00" height="11.00" fill="#482878" stroke="#000" stroke-width="1.5" stroke-linejoin="miter"/>
<circle cx="296.4" cy="288.9" r="5.50" fill="#440154" stroke="#000" stroke-width="1.5" stroke-linejoin="miter"/>
<polygon points="348.0,283.00 355.60,290.6 348.0,298.20 340.40,290.6" fill="#38588c" stroke="#000" stroke-width="1.5" stroke-linejoin="miter"/>
<polygon points="362.80,306.80 360.05,311.56 354.55,311.56 351.80,306.80 354.55,302.04 360.05,302.04" fill="#440154" stroke="#000" stroke-width="1.5" stroke-linejoin="miter"/>
<text x="281.6" y="58.6" font-family='"Liberation Serif", serif' font-size="10.6" fill="#111"><tspan>MoO</tspan><tspan dy="2.50" font-size="7.5">3</tspan></text>
<text x="174.3" y="180.0" font-family='"Liberation Serif", serif' font-size="10.6" fill="#111"><tspan>PbI</tspan><tspan dy="2.50" font-size="7.5">2</tspan></text>
<text x="246.8" y="186.8" font-family='"Liberation Serif", serif' font-size="10.6" fill="#111"><tspan>WS</tspan><tspan dy="2.50" font-size="7.5">2</tspan></text>
<text x="295.8" y="190.2" font-family='"Liberation Serif", serif' font-size="10.6" fill="#111"><tspan>MoS</tspan><tspan dy="2.50" font-size="7.5">2</tspan></text>
<text x="166.0" y="196.6" font-family='"Liberation Serif", serif' font-size="10.6" fill="#111"><tspan>WSe</tspan><tspan dy="2.50" font-size="7.5">2</tspan></text>
<text x="229.2" y="213.4" font-family='"Liberation Serif", serif' font-size="10.6" fill="#111"><tspan>MoSe</tspan><tspan dy="2.50" font-size="7.5">2</tspan></text>
<text x="129.0" y="205.3" font-family='"Liberation Serif", serif' font-size="10.6" fill="#111"><tspan>CsPbBr</tspan><tspan dy="2.50" font-size="7.5">3</tspan></text>
<text x="108.9" y="216.2" font-family='"Liberation Serif", serif' font-size="10.6" fill="#111"><tspan>CsPbBrI</tspan><tspan dy="2.50" font-size="7.5">2</tspan></text>
<text x="219.6" y="222.0" font-family='"Liberation Serif", serif' font-size="10.6" fill="#111"><tspan>MoTe</tspan><tspan dy="2.50" font-size="7.5">2</tspan></text>
<text x="258.6" y="205.3" font-family='"Liberation Serif", serif' font-size="10.6" fill="#111"><tspan>SnO</tspan><tspan dy="2.50" font-size="7.5">2</tspan></text>
<text x="291.3" y="219.0" font-family='"Liberation Serif", serif' font-size="10.6" fill="#111"><tspan>SnS</tspan><tspan dy="2.50" font-size="7.5">2</tspan></text>
<text x="324.4" y="225.6" font-family='"Liberation Serif", serif' font-size="10.6" fill="#111"><tspan>TiO</tspan><tspan dy="2.50" font-size="7.5">2</tspan></text>
<text x="143.6" y="230.5" font-family='"Liberation Serif", serif' font-size="10.6" fill="#111"><tspan>Bi</tspan><tspan dy="2.50" font-size="7.5">2</tspan><tspan dy="-2.50">S</tspan><tspan dy="2.50" font-size="7.5">3</tspan></text>
<text x="183.8" y="248.5" font-family='"Liberation Serif", serif' font-size="10.6" fill="#111"><tspan>Sb</tspan><tspan dy="2.50" font-size="7.5">2</tspan><tspan dy="-2.50">Se</tspan><tspan dy="2.50" font-size="7.5">3</tspan></text>
<text x="137.6" y="263.0" font-family='"Liberation Serif", serif' font-size="10.6" fill="#111"><tspan>CH</tspan><tspan dy="2.50" font-size="7.5">3</tspan><tspan dy="-2.50">NH</tspan><tspan dy="2.50" font-size="7.5">3</tspan><tspan dy="-2.50">PbI</tspan><tspan dy="2.50" font-size="7.5">3</tspan></text>
<text x="238.9" y="233.0" font-family='"Liberation Serif", serif' font-size="10.6" fill="#111"><tspan>In</tspan><tspan dy="2.50" font-size="7.5">2</tspan><tspan dy="-2.50">O</tspan><tspan dy="2.50" font-size="7.5">3</tspan></text>
<text x="257.6" y="242.6" font-family='"Liberation Serif", serif' font-size="10.6" fill="#111"><tspan>SnSe</tspan><tspan dy="2.50" font-size="7.5">2</tspan></text>
<text x="58.2" y="250.6" font-family='"Liberation Serif", serif' font-size="10.6" fill="#111"><tspan>Bi</tspan><tspan dy="2.50" font-size="7.5">2</tspan><tspan dy="-2.50">Te</tspan><tspan dy="2.50" font-size="7.5">3</tspan></text>
<text x="209.3" y="263.6" font-family='"Liberation Serif", serif' font-size="10.6" fill="#111"><tspan>ReS</tspan><tspan dy="2.50" font-size="7.5">2</tspan></text>
<text x="297.9" y="256.0" font-family='"Liberation Serif", serif' font-size="10.6" fill="#111"><tspan>SnS</tspan></text>
<text x="258.3" y="261.1" font-family='"Liberation Serif", serif' font-size="10.6" fill="#111"><tspan>CuBr</tspan></text>
<text x="312.5" y="272.0" font-family='"Liberation Serif", serif' font-size="10.6" fill="#111"><tspan>Si</tspan><tspan dy="2.50" font-size="7.5">3</tspan><tspan dy="-2.50">N</tspan><tspan dy="2.50" font-size="7.5">4</tspan></text>
<text x="239.0" y="285.2" font-family='"Liberation Serif", serif' font-size="10.6" fill="#111"><tspan>Ga</tspan><tspan dy="2.50" font-size="7.5">2</tspan><tspan dy="-2.50">O</tspan><tspan dy="2.50" font-size="7.5">3</tspan></text>
<text x="216.3" y="291.0" font-family='"Liberation Serif", serif' font-size="10.6" fill="#111"><tspan>CdZnTe</tspan></text>
<text x="302.2" y="285.5" font-family='"Liberation Serif", serif' font-size="10.6" fill="#111"><tspan>NiO</tspan></text>
<text x="266.8" y="295.6" font-family='"Liberation Serif", serif' font-size="10.6" fill="#111"><tspan>InSe</tspan></text>
<text x="287.3" y="303.0" font-family='"Liberation Serif", serif' font-size="10.6" fill="#111"><tspan>CuO</tspan></text>
<text x="353.4" y="285.4" font-family='"Liberation Serif", serif' font-size="10.6" fill="#111"><tspan>Si</tspan></text>
<text x="310.0" y="314.0" font-family='"Liberation Serif", serif' font-size="10.6" fill="#111"><tspan>Graphene</tspan></text>
<text x="159.8" y="367.7" font-family='"Liberation Serif", serif' font-size="10.5">Mobility Ranges <tspan font-family='"Liberation Sans", sans-serif' font-size="10.7" font-style="italic">(cm<tspan dx="0.4" dy="-3.9" font-size="7.8">2</tspan><tspan dx="0.3" dy="3.9">/Vs)</tspan></tspan></text>
<circle cx="80.8" cy="385.3" r="5.22" fill="#000" stroke="#000" stroke-width="0.5" stroke-linejoin="miter"/>
<text x="97.4" y="387.9" font-family='"Liberation Sans", sans-serif' font-size="9.7" letter-spacing="0.15" fill="#1a1a1a">0 – 100</text>
<polygon points="80.8,390.68 88.02,397.9 80.8,405.12 73.58,397.9" fill="#000" stroke="#000" stroke-width="0.5" stroke-linejoin="miter"/>
<text x="97.4" y="400.5" font-family='"Liberation Sans", sans-serif' font-size="9.7" letter-spacing="0.15" fill="#1a1a1a">1000 – 2000</text>
<polygon points="80.8,415.04 75.77,404.96 85.83,404.96" fill="#000" stroke="#000" stroke-width="0.5" stroke-linejoin="round"/>
<text x="97.4" y="412.6" font-family='"Liberation Sans", sans-serif' font-size="9.7" letter-spacing="0.15" fill="#1a1a1a">5000 – 7000</text>
<rect x="172.38" y="380.27" width="10.45" height="10.45" fill="#000" stroke="#000" stroke-width="0.5" stroke-linejoin="miter"/>
<text x="194.2" y="388.1" font-family='"Liberation Sans", sans-serif' font-size="9.7" letter-spacing="0.15" fill="#1a1a1a">100 – 500</text>
<polygon points="177.60,393.05 178.69,396.40 182.21,396.40 179.36,398.47 180.45,401.82 177.60,399.75 174.75,401.82 175.84,398.47 172.99,396.40 176.51,396.40" fill="#000" stroke="#000" stroke-width="0.5" stroke-linejoin="round"/>
<text x="194.2" y="400.5" font-family='"Liberation Sans", sans-serif' font-size="9.7" letter-spacing="0.15" fill="#1a1a1a">2000 – 3000</text>
<polygon points="180.15,404.89 182.71,407.45 180.15,410.00 182.71,412.55 180.15,415.11 177.60,412.55 175.05,415.11 172.49,412.55 175.05,410.00 172.49,407.45 175.05,404.89 177.60,407.45" fill="#000" stroke="#000" stroke-width="0.5" stroke-linejoin="miter"/>
<text x="194.2" y="412.6" font-family='"Liberation Sans", sans-serif' font-size="9.7" letter-spacing="0.15" fill="#1a1a1a">7000 – 10<tspan dy="-3.5" font-size="7">4</tspan></text>
<polygon points="274.3,380.16 269.26,390.24 279.34,390.24" fill="#000" stroke="#000" stroke-width="0.5" stroke-linejoin="round"/>
<text x="290.9" y="387.8" font-family='"Liberation Sans", sans-serif' font-size="9.7" letter-spacing="0.15" fill="#1a1a1a">500 – 1000</text>
<polygon points="274.30,391.99 279.54,395.80 277.54,401.96 271.06,401.96 269.06,395.80" fill="#000" stroke="#000" stroke-width="0.5" stroke-linejoin="miter"/>
<text x="290.9" y="400.1" font-family='"Liberation Sans", sans-serif' font-size="9.7" letter-spacing="0.15" fill="#1a1a1a">3000 – 5000</text>
<polygon points="279.53,410.30 276.91,414.82 271.69,414.82 269.07,410.30 271.69,405.78 276.91,405.78" fill="#000" stroke="#000" stroke-width="0.5" stroke-linejoin="miter"/>
<text x="290.9" y="412.9" font-family='"Liberation Sans", sans-serif' font-size="9.7" letter-spacing="0.15" fill="#1a1a1a">&gt; 10<tspan dy="-3.5" font-size="7">4</tspan></text>
<g shape-rendering="crispEdges"><rect x="487.3" y="64" width="149.5" height="3" fill="url(#b0)"/>
<rect x="487.3" y="67" width="149.5" height="3" fill="url(#b1)"/>
<rect x="487.3" y="70" width="149.5" height="3" fill="url(#b2)"/>
<rect x="487.3" y="73" width="149.5" height="3" fill="url(#b3)"/>
<rect x="487.3" y="76" width="149.5" height="3" fill="url(#b4)"/>
<rect x="487.3" y="79" width="149.5" height="3" fill="url(#b5)"/>
<rect x="487.3" y="82" width="149.5" height="2" fill="url(#b6)"/>
<rect x="487.3" y="84" width="149.5" height="2" fill="url(#b7)"/>
<rect x="487.3" y="86" width="149.5" height="2" fill="url(#b8)"/>
<rect x="487.3" y="88" width="149.5" height="2" fill="url(#b9)"/>
<rect x="487.3" y="90" width="149.5" height="2" fill="url(#b10)"/>
<rect x="487.3" y="92" width="149.5" height="2" fill="url(#b11)"/>
<rect x="487.3" y="94" width="149.5" height="3" fill="url(#b12)"/>
<rect x="487.3" y="97" width="149.5" height="2" fill="url(#b13)"/>
<rect x="487.3" y="99" width="149.5" height="2" fill="url(#b14)"/>
<rect x="487.3" y="101" width="149.5" height="2" fill="url(#b15)"/>
<rect x="487.3" y="103" width="149.5" height="3" fill="url(#b16)"/>
<rect x="487.3" y="106" width="149.5" height="2" fill="url(#b17)"/>
<rect x="487.3" y="108" width="149.5" height="2" fill="url(#b18)"/>
<rect x="487.3" y="110" width="149.5" height="2" fill="url(#b19)"/>
<rect x="487.3" y="112" width="149.5" height="2" fill="url(#b20)"/>
<rect x="487.3" y="114" width="149.5" height="2" fill="url(#b21)"/>
<rect x="487.3" y="116" width="149.5" height="2" fill="url(#b22)"/>
<rect x="487.3" y="118" width="149.5" height="2" fill="url(#b23)"/>
<rect x="487.3" y="120" width="149.5" height="2" fill="url(#b24)"/>
<rect x="487.3" y="122" width="149.5" height="2" fill="url(#b25)"/>
<rect x="487.3" y="124" width="149.5" height="2" fill="url(#b26)"/>
<rect x="487.3" y="126" width="149.5" height="2" fill="url(#b27)"/>
<rect x="487.3" y="128" width="149.5" height="2" fill="url(#b28)"/>
<rect x="487.3" y="130" width="149.5" height="2" fill="url(#b29)"/>
<rect x="487.3" y="132" width="149.5" height="1" fill="url(#b30)"/>
<rect x="487.3" y="133" width="149.5" height="2" fill="url(#b31)"/>
<rect x="487.3" y="135" width="149.5" height="1" fill="url(#b32)"/>
<rect x="487.3" y="136" width="149.5" height="1" fill="url(#b33)"/>
<rect x="487.3" y="137" width="149.5" height="2" fill="url(#b34)"/>
<rect x="487.3" y="139" width="149.5" height="1" fill="url(#b35)"/>
<rect x="487.3" y="140" width="149.5" height="1" fill="url(#b36)"/>
<rect x="487.3" y="141" width="149.5" height="1" fill="url(#b37)"/>
<rect x="487.3" y="142" width="149.5" height="1" fill="url(#b38)"/>
<rect x="487.3" y="143" width="149.5" height="1" fill="url(#b39)"/>
<rect x="487.3" y="144" width="149.5" height="1" fill="url(#b40)"/>
<rect x="487.3" y="145" width="149.5" height="1" fill="url(#b41)"/>
<rect x="487.3" y="146" width="149.5" height="1" fill="url(#b42)"/>
<rect x="487.3" y="147" width="149.5" height="1" fill="url(#b43)"/>
<rect x="487.3" y="148" width="149.5" height="1" fill="url(#b44)"/>
<rect x="487.3" y="149" width="149.5" height="1" fill="url(#b45)"/>
<rect x="487.3" y="150" width="149.5" height="5" fill="url(#b46)"/>
<rect x="487.3" y="155" width="149.5" height="4" fill="url(#b47)"/>
<rect x="487.3" y="159" width="149.5" height="1" fill="url(#b48)"/>
<rect x="487.3" y="160" width="149.5" height="2" fill="url(#b49)"/>
<rect x="487.3" y="162" width="149.5" height="2" fill="url(#b50)"/>
<rect x="487.3" y="164" width="149.5" height="2" fill="url(#b51)"/>
<rect x="487.3" y="166" width="149.5" height="2" fill="url(#b52)"/>
<rect x="487.3" y="168" width="149.5" height="2" fill="url(#b53)"/>
<rect x="487.3" y="170" width="149.5" height="2" fill="url(#b54)"/>
<rect x="487.3" y="172" width="149.5" height="3" fill="url(#b55)"/>
<rect x="487.3" y="175" width="149.5" height="3" fill="url(#b56)"/>
<rect x="487.3" y="178" width="149.5" height="3" fill="url(#b57)"/>
<rect x="487.3" y="181" width="149.5" height="3" fill="url(#b58)"/>
<rect x="487.3" y="184" width="149.5" height="2" fill="url(#b59)"/>
<rect x="487.3" y="186" width="149.5" height="1" fill="url(#b60)"/>
<rect x="487.3" y="187" width="149.5" height="1" fill="url(#b61)"/>
<rect x="487.3" y="188" width="149.5" height="1" fill="url(#b62)"/>
<rect x="487.3" y="189" width="149.5" height="1" fill="url(#b63)"/>
<rect x="487.3" y="190" width="149.5" height="1" fill="url(#b64)"/>
<rect x="487.3" y="191" width="149.5" height="2" fill="url(#b65)"/>
<rect x="487.3" y="193" width="149.5" height="1" fill="url(#b66)"/>
<rect x="487.3" y="194" width="149.5" height="1" fill="url(#b67)"/>
<rect x="487.3" y="195" width="149.5" height="1" fill="url(#b68)"/>
<rect x="487.3" y="196" width="149.5" height="1" fill="url(#b69)"/>
<rect x="487.3" y="197" width="149.5" height="1" fill="url(#b70)"/>
<rect x="487.3" y="198" width="149.5" height="1" fill="url(#b71)"/>
<rect x="487.3" y="199" width="149.5" height="1" fill="url(#b72)"/>
<rect x="487.3" y="200" width="149.5" height="1" fill="url(#b73)"/>
<rect x="487.3" y="201" width="149.5" height="1" fill="url(#b74)"/>
<rect x="487.3" y="202" width="149.5" height="1" fill="url(#b75)"/>
<rect x="487.3" y="203" width="149.5" height="1" fill="url(#b76)"/>
<rect x="487.3" y="204" width="149.5" height="1" fill="url(#b77)"/>
<rect x="487.3" y="205" width="149.5" height="1" fill="url(#b78)"/>
<rect x="487.3" y="206" width="149.5" height="1" fill="url(#b79)"/>
<rect x="487.3" y="207" width="149.5" height="1" fill="url(#b80)"/></g>
<path d="M507.7,64.6V207.6M541.6,64.6V207.6M575.5,64.6V207.6M609.4,64.6V207.6M487.3,190.4H636.8M487.3,167.6H636.8M487.3,144.7H636.8M487.3,121.8H636.8M487.3,98.9H636.8M487.3,76.0H636.8" stroke="#828282" stroke-width="1.05" fill="none" opacity="0.9"/>
<path d="M487.3,107.8H636.8M587.8,64.6V207.6" stroke="#fff" stroke-width="1.4" stroke-dasharray="1.4 1.9" fill="none"/>
<path d="M583.8,103.8l8,8m0,-8l-8,8" stroke="#e6262a" stroke-width="1.6" fill="none"/>
<rect x="487.3" y="64.6" width="149.5" height="143" fill="none" stroke="#000" stroke-width="1.3"/>
<path d="M482.4,190.4H487.3M636.8,190.4H641.5M482.4,167.6H487.3M636.8,167.6H641.5M482.4,144.7H487.3M636.8,144.7H641.5M482.4,121.8H487.3M636.8,121.8H641.5M482.4,98.9H487.3M636.8,98.9H641.5M482.4,76.0H487.3M636.8,76.0H641.5M507.7,207.6v5M541.6,207.6v5M575.5,207.6v5M609.4,207.6v5" stroke="#000" stroke-width="1" fill="none"/>
<text x="477.3" y="194.5" text-anchor="end" font-family='"Liberation Serif", serif' font-size="11.6">20</text>
<text x="646.2" y="194.5" font-family='"Liberation Serif", serif' font-size="11.6">62.0</text>
<text x="477.3" y="171.7" text-anchor="end" font-family='"Liberation Serif", serif' font-size="11.6">40</text>
<text x="646.2" y="171.7" font-family='"Liberation Serif", serif' font-size="11.6">31.0</text>
<text x="477.3" y="148.8" text-anchor="end" font-family='"Liberation Serif", serif' font-size="11.6">60</text>
<text x="646.2" y="148.8" font-family='"Liberation Serif", serif' font-size="11.6">20.7</text>
<text x="477.3" y="125.9" text-anchor="end" font-family='"Liberation Serif", serif' font-size="11.6">80</text>
<text x="646.2" y="125.9" font-family='"Liberation Serif", serif' font-size="11.6">15.5</text>
<text x="477.3" y="103.0" text-anchor="end" font-family='"Liberation Serif", serif' font-size="11.6">100</text>
<text x="646.2" y="103.0" font-family='"Liberation Serif", serif' font-size="11.6">12.4</text>
<text x="477.3" y="80.1" text-anchor="end" font-family='"Liberation Serif", serif' font-size="11.6">120</text>
<text x="646.2" y="80.1" font-family='"Liberation Serif", serif' font-size="11.6">10.3</text>
<text x="438.4" y="70.0" font-family='"Liberation Serif", serif' font-size="19">(b)</text>
<text transform="translate(450.6,136.1) rotate(-90)" text-anchor="middle" font-family='"Liberation Serif", serif' font-size="13">Energy (eV)</text>
<text transform="translate(681.5,136.1) rotate(-90)" text-anchor="middle" font-family='"Liberation Serif", serif' font-size="13">Wavelength (nm)</text>
<g shape-rendering="crispEdges"><rect x="487.3" y="221" width="149.5" height="1" fill="url(#c0)"/>
<rect x="487.3" y="222" width="149.5" height="1" fill="url(#c1)"/>
<rect x="487.3" y="223" width="149.5" height="1" fill="url(#c2)"/>
<rect x="487.3" y="224" width="149.5" height="1" fill="url(#c3)"/>
<rect x="487.3" y="225" width="149.5" height="1" fill="url(#c4)"/>
<rect x="487.3" y="226" width="149.5" height="1" fill="url(#c5)"/>
<rect x="487.3" y="227" width="149.5" height="1" fill="url(#c6)"/>
<rect x="487.3" y="228" width="149.5" height="1" fill="url(#c7)"/>
<rect x="487.3" y="229" width="149.5" height="1" fill="url(#c8)"/>
<rect x="487.3" y="230" width="149.5" height="6" fill="url(#c9)"/>
<rect x="487.3" y="236" width="149.5" height="3" fill="url(#c10)"/>
<rect x="487.3" y="239" width="149.5" height="1" fill="url(#c11)"/>
<rect x="487.3" y="240" width="149.5" height="1" fill="url(#c12)"/>
<rect x="487.3" y="241" width="149.5" height="1" fill="url(#c13)"/>
<rect x="487.3" y="242" width="149.5" height="1" fill="url(#c14)"/>
<rect x="487.3" y="243" width="149.5" height="1" fill="url(#c15)"/>
<rect x="487.3" y="244" width="149.5" height="1" fill="url(#c16)"/>
<rect x="487.3" y="245" width="149.5" height="1" fill="url(#c17)"/>
<rect x="487.3" y="246" width="149.5" height="1" fill="url(#c18)"/>
<rect x="487.3" y="247" width="149.5" height="1" fill="url(#c19)"/>
<rect x="487.3" y="248" width="149.5" height="1" fill="url(#c20)"/>
<rect x="487.3" y="249" width="149.5" height="1" fill="url(#c21)"/>
<rect x="487.3" y="250" width="149.5" height="1" fill="url(#c22)"/>
<rect x="487.3" y="251" width="149.5" height="1" fill="url(#c23)"/>
<rect x="487.3" y="252" width="149.5" height="1" fill="url(#c24)"/>
<rect x="487.3" y="253" width="149.5" height="1" fill="url(#c25)"/>
<rect x="487.3" y="254" width="149.5" height="1" fill="url(#c26)"/>
<rect x="487.3" y="255" width="149.5" height="1" fill="url(#c27)"/>
<rect x="487.3" y="256" width="149.5" height="1" fill="url(#c28)"/>
<rect x="487.3" y="257" width="149.5" height="2" fill="url(#c29)"/>
<rect x="487.3" y="259" width="149.5" height="2" fill="url(#c30)"/>
<rect x="487.3" y="261" width="149.5" height="2" fill="url(#c31)"/>
<rect x="487.3" y="263" width="149.5" height="2" fill="url(#c32)"/>
<rect x="487.3" y="265" width="149.5" height="2" fill="url(#c33)"/>
<rect x="487.3" y="267" width="149.5" height="4" fill="url(#c34)"/>
<rect x="487.3" y="271" width="149.5" height="5" fill="url(#c35)"/>
<rect x="487.3" y="276" width="149.5" height="5" fill="url(#c36)"/>
<rect x="487.3" y="281" width="149.5" height="4" fill="url(#c37)"/>
<rect x="487.3" y="285" width="149.5" height="6" fill="url(#c38)"/>
<rect x="487.3" y="291" width="149.5" height="6" fill="url(#c39)"/>
<rect x="487.3" y="297" width="149.5" height="6" fill="url(#c40)"/>
<rect x="487.3" y="303" width="149.5" height="6" fill="url(#c41)"/>
<rect x="487.3" y="309" width="149.5" height="6" fill="url(#c42)"/>
<rect x="487.3" y="315" width="149.5" height="6" fill="url(#c43)"/>
<rect x="487.3" y="321" width="149.5" height="6" fill="url(#c44)"/>
<rect x="487.3" y="327" width="149.5" height="6" fill="url(#c45)"/>
<rect x="487.3" y="333" width="149.5" height="6" fill="url(#c46)"/>
<rect x="487.3" y="339" width="149.5" height="3" fill="url(#c47)"/>
<rect x="487.3" y="342" width="149.5" height="1" fill="url(#c48)"/>
<rect x="487.3" y="343" width="149.5" height="1" fill="url(#c49)"/>
<rect x="487.3" y="344" width="149.5" height="1" fill="url(#c50)"/>
<rect x="487.3" y="345" width="149.5" height="1" fill="url(#c51)"/>
<rect x="487.3" y="346" width="149.5" height="1" fill="url(#c52)"/>
<rect x="487.3" y="347" width="149.5" height="1" fill="url(#c53)"/>
<rect x="487.3" y="348" width="149.5" height="1" fill="url(#c54)"/>
<rect x="487.3" y="349" width="149.5" height="1" fill="url(#c55)"/>
<rect x="487.3" y="350" width="149.5" height="1" fill="url(#c56)"/>
<rect x="487.3" y="351" width="149.5" height="1" fill="url(#c57)"/>
<rect x="487.3" y="352" width="149.5" height="1" fill="url(#c58)"/>
<rect x="487.3" y="353" width="149.5" height="1" fill="url(#c59)"/>
<rect x="487.3" y="354" width="149.5" height="1" fill="url(#c60)"/>
<rect x="487.3" y="355" width="149.5" height="1" fill="url(#c61)"/>
<rect x="487.3" y="356" width="149.5" height="1" fill="url(#c62)"/>
<rect x="487.3" y="357" width="149.5" height="1" fill="url(#c63)"/>
<rect x="487.3" y="358" width="149.5" height="1" fill="url(#c64)"/>
<rect x="487.3" y="359" width="149.5" height="1" fill="url(#c65)"/>
<rect x="487.3" y="360" width="149.5" height="1" fill="url(#c66)"/>
<rect x="487.3" y="361" width="149.5" height="1" fill="url(#c67)"/>
<rect x="487.3" y="362" width="149.5" height="1" fill="url(#c68)"/>
<rect x="487.3" y="363" width="149.5" height="1" fill="url(#c69)"/>
<rect x="487.3" y="364" width="149.5" height="1" fill="url(#c70)"/></g>
<path d="M507.7,221.4V364.4M541.6,221.4V364.4M575.5,221.4V364.4M609.4,221.4V364.4M487.3,347.2H636.8M487.3,324.4H636.8M487.3,301.5H636.8M487.3,278.6H636.8M487.3,255.7H636.8M487.3,232.8H636.8" stroke="#828282" stroke-width="1.05" fill="none" opacity="0.9"/>
<path d="M487.3,264.6H636.8M587.8,221.4V364.4" stroke="#fff" stroke-width="1.4" stroke-dasharray="1.4 1.9" fill="none"/>
<path d="M583.8,260.6l8,8m0,-8l-8,8" stroke="#e6262a" stroke-width="1.6" fill="none"/>
<rect x="487.3" y="221.4" width="149.5" height="143" fill="none" stroke="#000" stroke-width="1.3"/>
<path d="M482.4,347.2H487.3M636.8,347.2H641.5M482.4,324.4H487.3M636.8,324.4H641.5M482.4,301.5H487.3M636.8,301.5H641.5M482.4,278.6H487.3M636.8,278.6H641.5M482.4,255.7H487.3M636.8,255.7H641.5M482.4,232.8H487.3M636.8,232.8H641.5M507.7,364.4v5M541.6,364.4v5M575.5,364.4v5M609.4,364.4v5" stroke="#000" stroke-width="1" fill="none"/>
<text x="477.3" y="351.3" text-anchor="end" font-family='"Liberation Serif", serif' font-size="11.6">20</text>
<text x="646.2" y="351.3" font-family='"Liberation Serif", serif' font-size="11.6">62.0</text>
<text x="477.3" y="328.5" text-anchor="end" font-family='"Liberation Serif", serif' font-size="11.6">40</text>
<text x="646.2" y="328.5" font-family='"Liberation Serif", serif' font-size="11.6">31.0</text>
<text x="477.3" y="305.6" text-anchor="end" font-family='"Liberation Serif", serif' font-size="11.6">60</text>
<text x="646.2" y="305.6" font-family='"Liberation Serif", serif' font-size="11.6">20.7</text>
<text x="477.3" y="282.7" text-anchor="end" font-family='"Liberation Serif", serif' font-size="11.6">80</text>
<text x="646.2" y="282.7" font-family='"Liberation Serif", serif' font-size="11.6">15.5</text>
<text x="477.3" y="259.8" text-anchor="end" font-family='"Liberation Serif", serif' font-size="11.6">100</text>
<text x="646.2" y="259.8" font-family='"Liberation Serif", serif' font-size="11.6">12.4</text>
<text x="477.3" y="236.9" text-anchor="end" font-family='"Liberation Serif", serif' font-size="11.6">120</text>
<text x="646.2" y="236.9" font-family='"Liberation Serif", serif' font-size="11.6">10.3</text>
<text x="438.4" y="226.8" font-family='"Liberation Serif", serif' font-size="19">(c)</text>
<text transform="translate(450.6,292.9) rotate(-90)" text-anchor="middle" font-family='"Liberation Serif", serif' font-size="13">Energy (eV)</text>
<text transform="translate(681.5,292.9) rotate(-90)" text-anchor="middle" font-family='"Liberation Serif", serif' font-size="13">Wavelength (nm)</text>
<text x="507.7" y="383.3" text-anchor="middle" font-family='"Liberation Serif", serif' font-size="11.6">50</text>
<text x="541.6" y="383.3" text-anchor="middle" font-family='"Liberation Serif", serif' font-size="11.6">100</text>
<text x="575.5" y="383.3" text-anchor="middle" font-family='"Liberation Serif", serif' font-size="11.6">150</text>
<text x="609.4" y="383.3" text-anchor="middle" font-family='"Liberation Serif", serif' font-size="11.6">200</text>
<text x="563" y="402.9" text-anchor="middle" font-family='"Liberation Serif", serif' font-size="13.2">Thickness (nm)</text>
<rect x="487.3" y="50.6" width="149.5" height="7.9" fill="url(#vh)" stroke="#000" stroke-width="1.2"/>
<path d="M489.6,50.6v-5.3M538.6,50.6v-5.3M587.5,50.6v-5.3" stroke="#000" stroke-width="1"/>
<text x="489.6" y="37.6" text-anchor="middle" font-family='"Liberation Serif", serif' font-size="11.6">0</text>
<text x="538.6" y="37.6" text-anchor="middle" font-family='"Liberation Serif", serif' font-size="11.6">1×10<tspan dy="-4.3" font-size="6.8">6</tspan></text>
<text x="587.5" y="37.6" text-anchor="middle" font-family='"Liberation Serif", serif' font-size="11.6">2×10<tspan dy="-4.3" font-size="6.8">6</tspan></text>
<text x="562" y="24.0" text-anchor="middle" font-family='"Liberation Serif", serif' font-size="13.2">Electrons (per million Photons)</text>
</svg>
</body></html>
